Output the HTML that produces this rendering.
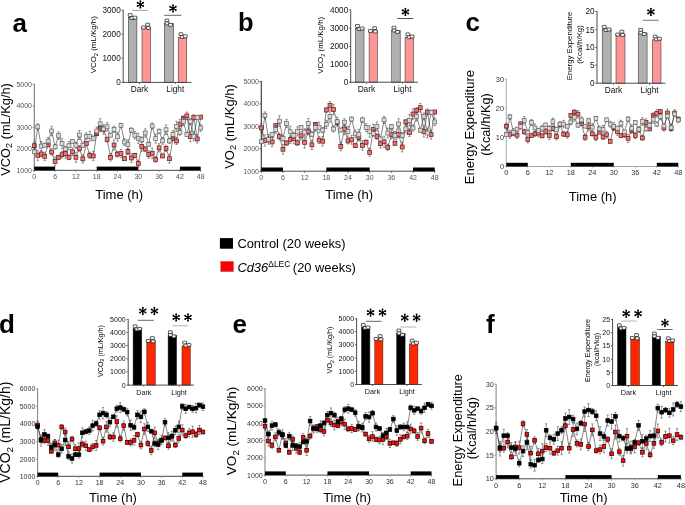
<!DOCTYPE html><html><head><meta charset="utf-8"><style>html,body{margin:0;padding:0;background:#fff;}svg{display:block;will-change:transform;}text{font-family:"Liberation Sans", sans-serif;}</style></head><body>
<svg width="685" height="505" viewBox="0 0 685 505">
<rect width="685" height="505" fill="#fff"/>
<text x="12.5" y="31.5" font-size="26" text-anchor="start" font-weight="bold" fill="#000">a</text>
<text x="238.1" y="30.8" font-size="25.5" text-anchor="start" font-weight="bold" fill="#000">b</text>
<text x="465.5" y="30.7" font-size="26" text-anchor="start" font-weight="bold" fill="#000">c</text>
<text x="-1" y="333.3" font-size="26" text-anchor="start" font-weight="bold" fill="#000">d</text>
<text x="232.5" y="333.3" font-size="26" text-anchor="start" font-weight="bold" fill="#000">e</text>
<text x="486" y="333.3" font-size="26" text-anchor="start" font-weight="bold" fill="#000">f</text>
<line x1="34.3" y1="83.8" x2="34.3" y2="170.8" stroke="#777" stroke-width="1.1"/>
<line x1="33.8" y1="170.3" x2="201.22" y2="170.3" stroke="#333" stroke-width="0.9"/>
<line x1="32.7" y1="84.3" x2="34.3" y2="84.3" stroke="#777" stroke-width="0.8"/>
<text x="32" y="86.75" font-size="7" text-anchor="end" font-weight="normal" fill="#555">5000</text>
<line x1="32.7" y1="105.8" x2="34.3" y2="105.8" stroke="#777" stroke-width="0.8"/>
<text x="32" y="108.25" font-size="7" text-anchor="end" font-weight="normal" fill="#555">4000</text>
<line x1="32.7" y1="127.3" x2="34.3" y2="127.3" stroke="#777" stroke-width="0.8"/>
<text x="32" y="129.75" font-size="7" text-anchor="end" font-weight="normal" fill="#555">3000</text>
<line x1="32.7" y1="148.8" x2="34.3" y2="148.8" stroke="#777" stroke-width="0.8"/>
<text x="32" y="151.25" font-size="7" text-anchor="end" font-weight="normal" fill="#555">2000</text>
<line x1="32.7" y1="170.3" x2="34.3" y2="170.3" stroke="#777" stroke-width="0.8"/>
<text x="32" y="172.75" font-size="7" text-anchor="end" font-weight="normal" fill="#555">1000</text>
<line x1="34.3" y1="170.3" x2="34.3" y2="171.9" stroke="#777" stroke-width="0.8"/>
<text x="34.3" y="179.2" font-size="7" text-anchor="middle" font-weight="normal" fill="#555">0</text>
<line x1="55.1" y1="170.3" x2="55.1" y2="171.9" stroke="#777" stroke-width="0.8"/>
<text x="55.1" y="179.2" font-size="7" text-anchor="middle" font-weight="normal" fill="#555">6</text>
<line x1="75.9" y1="170.3" x2="75.9" y2="171.9" stroke="#777" stroke-width="0.8"/>
<text x="75.9" y="179.2" font-size="7" text-anchor="middle" font-weight="normal" fill="#555">12</text>
<line x1="96.71" y1="170.3" x2="96.71" y2="171.9" stroke="#777" stroke-width="0.8"/>
<text x="96.71" y="179.2" font-size="7" text-anchor="middle" font-weight="normal" fill="#555">18</text>
<line x1="117.51" y1="170.3" x2="117.51" y2="171.9" stroke="#777" stroke-width="0.8"/>
<text x="117.51" y="179.2" font-size="7" text-anchor="middle" font-weight="normal" fill="#555">24</text>
<line x1="138.31" y1="170.3" x2="138.31" y2="171.9" stroke="#777" stroke-width="0.8"/>
<text x="138.31" y="179.2" font-size="7" text-anchor="middle" font-weight="normal" fill="#555">30</text>
<line x1="159.11" y1="170.3" x2="159.11" y2="171.9" stroke="#777" stroke-width="0.8"/>
<text x="159.11" y="179.2" font-size="7" text-anchor="middle" font-weight="normal" fill="#555">36</text>
<line x1="179.91" y1="170.3" x2="179.91" y2="171.9" stroke="#777" stroke-width="0.8"/>
<text x="179.91" y="179.2" font-size="7" text-anchor="middle" font-weight="normal" fill="#555">42</text>
<line x1="200.72" y1="170.3" x2="200.72" y2="171.9" stroke="#777" stroke-width="0.8"/>
<text x="200.72" y="179.2" font-size="7" text-anchor="middle" font-weight="normal" fill="#555">48</text>
<rect x="34.3" y="166.6" width="20.8" height="3.7" fill="#000"/>
<rect x="96.71" y="166.6" width="41.6" height="3.7" fill="#000"/>
<rect x="179.91" y="166.6" width="20.8" height="3.7" fill="#000"/>
<polyline points="34.3,145.7 37.77,155.3 41.23,154 44.7,156.3 48.17,144.8 51.63,152 55.1,161.5 58.57,157.3 62.04,154.7 65.5,153.4 68.97,157.3 72.44,151.8 75.9,157.3 79.37,148.4 82.84,158.9 86.31,143.5 89.77,155.3 93.24,156 96.71,133.7 100.17,128.4 103.64,129.4 107.11,139.6 110.57,157.3 114.04,145 117.51,154.2 120.97,153.5 124.44,158.7 127.91,151.6 131.38,158 134.84,155.4 138.31,163.6 141.78,146.4 145.24,149 148.71,154.5 152.18,153.2 155.64,159.4 159.11,147.8 162.58,156 166.05,148.3 169.51,158.7 172.98,138.3 176.45,141 179.91,124.1 183.38,118.3 186.85,115.9 190.31,136.7 193.78,117.5 197.25,138.9 200.72,117.1" fill="none" stroke="#222" stroke-width="0.55"/>
<path d="M34.3 141.94V149.46M33.1 141.94H35.5M33.1 149.46H35.5M37.77 150.17V160.43M36.57 150.17H38.97M36.57 160.43H38.97M41.23 151.26V156.74M40.03 151.26H42.43M40.03 156.74H42.43M44.7 152.2V160.4M43.5 152.2H45.9M43.5 160.4H45.9M48.17 143.09V146.51M46.97 143.09H49.37M46.97 146.51H49.37M51.63 148.92V155.08M50.43 148.92H52.84M50.43 155.08H52.84M55.1 157.05V165.95M53.9 157.05H56.3M53.9 165.95H56.3M58.57 155.25V159.35M57.37 155.25H59.77M57.37 159.35H59.77M62.04 151.28V158.12M60.84 151.28H63.24M60.84 158.12H63.24M65.5 148.61V158.19M64.3 148.61H66.7M64.3 158.19H66.7M68.97 154.91V159.69M67.77 154.91H70.17M67.77 159.69H70.17M72.44 148.04V155.56M71.24 148.04H73.64M71.24 155.56H73.64M75.9 152.17V162.43M74.7 152.17H77.1M74.7 162.43H77.1M79.37 145.66V151.14M78.17 145.66H80.57M78.17 151.14H80.57M82.84 154.8V163M81.64 154.8H84.04M81.64 163H84.04M86.31 141.79V145.21M85.11 141.79H87.51M85.11 145.21H87.51M89.77 152.22V158.38M88.57 152.22H90.97M88.57 158.38H90.97M93.24 151.55V160.45M92.04 151.55H94.44M92.04 160.45H94.44M96.71 131.65V135.75M95.51 131.65H97.91M95.51 135.75H97.91M100.17 124.98V131.82M98.97 124.98H101.37M98.97 131.82H101.37M103.64 124.61V134.19M102.44 124.61H104.84M102.44 134.19H104.84M107.11 137.21V141.99M105.91 137.21H108.31M105.91 141.99H108.31M110.57 153.54V161.06M109.37 153.54H111.77M109.37 161.06H111.77M114.04 139.87V150.13M112.84 139.87H115.24M112.84 150.13H115.24M117.51 151.46V156.94M116.31 151.46H118.71M116.31 156.94H118.71M120.97 149.4V157.6M119.77 149.4H122.17M119.77 157.6H122.17M124.44 156.99V160.41M123.24 156.99H125.64M123.24 160.41H125.64M127.91 148.52V154.68M126.71 148.52H129.11M126.71 154.68H129.11M131.38 153.55V162.45M130.18 153.55H132.58M130.18 162.45H132.58M134.84 153.35V157.45M133.64 153.35H136.04M133.64 157.45H136.04M138.31 160.18V167.02M137.11 160.18H139.51M137.11 167.02H139.51M141.78 141.61V151.19M140.58 141.61H142.98M140.58 151.19H142.98M145.24 146.61V151.39M144.04 146.61H146.44M144.04 151.39H146.44M148.71 150.74V158.26M147.51 150.74H149.91M147.51 158.26H149.91M152.18 148.07V158.33M150.98 148.07H153.38M150.98 158.33H153.38M155.64 156.66V162.14M154.44 156.66H156.84M154.44 162.14H156.84M159.11 143.7V151.9M157.91 143.7H160.31M157.91 151.9H160.31M162.58 154.29V157.71M161.38 154.29H163.78M161.38 157.71H163.78M166.05 145.22V151.38M164.85 145.22H167.25M164.85 151.38H167.25M169.51 154.25V163.15M168.31 154.25H170.71M168.31 163.15H170.71M172.98 136.25V140.35M171.78 136.25H174.18M171.78 140.35H174.18M176.45 137.58V144.42M175.25 137.58H177.65M175.25 144.42H177.65M179.91 119.31V128.89M178.71 119.31H181.11M178.71 128.89H181.11M183.38 115.91V120.69M182.18 115.91H184.58M182.18 120.69H184.58M186.85 112.14V119.66M185.65 112.14H188.05M185.65 119.66H188.05M190.31 131.57V141.83M189.12 131.57H191.51M189.12 141.83H191.51M193.78 114.76V120.24M192.58 114.76H194.98M192.58 120.24H194.98M197.25 134.8V143M196.05 134.8H198.45M196.05 143H198.45M200.72 115.39V118.81M199.52 115.39H201.92M199.52 118.81H201.92" stroke="#333" stroke-width="0.5" fill="none"/>
<g fill="#f47272" stroke="#5a1a1a" stroke-width="0.7"><rect x="32.35" y="143.75" width="3.9" height="3.9"/><rect x="35.82" y="153.35" width="3.9" height="3.9"/><rect x="39.28" y="152.05" width="3.9" height="3.9"/><rect x="42.75" y="154.35" width="3.9" height="3.9"/><rect x="46.22" y="142.85" width="3.9" height="3.9"/><rect x="49.68" y="150.05" width="3.9" height="3.9"/><rect x="53.15" y="159.55" width="3.9" height="3.9"/><rect x="56.62" y="155.35" width="3.9" height="3.9"/><rect x="60.09" y="152.75" width="3.9" height="3.9"/><rect x="63.55" y="151.45" width="3.9" height="3.9"/><rect x="67.02" y="155.35" width="3.9" height="3.9"/><rect x="70.49" y="149.85" width="3.9" height="3.9"/><rect x="73.95" y="155.35" width="3.9" height="3.9"/><rect x="77.42" y="146.45" width="3.9" height="3.9"/><rect x="80.89" y="156.95" width="3.9" height="3.9"/><rect x="84.36" y="141.55" width="3.9" height="3.9"/><rect x="87.82" y="153.35" width="3.9" height="3.9"/><rect x="91.29" y="154.05" width="3.9" height="3.9"/><rect x="94.76" y="131.75" width="3.9" height="3.9"/><rect x="98.22" y="126.45" width="3.9" height="3.9"/><rect x="101.69" y="127.45" width="3.9" height="3.9"/><rect x="105.16" y="137.65" width="3.9" height="3.9"/><rect x="108.62" y="155.35" width="3.9" height="3.9"/><rect x="112.09" y="143.05" width="3.9" height="3.9"/><rect x="115.56" y="152.25" width="3.9" height="3.9"/><rect x="119.02" y="151.55" width="3.9" height="3.9"/><rect x="122.49" y="156.75" width="3.9" height="3.9"/><rect x="125.96" y="149.65" width="3.9" height="3.9"/><rect x="129.43" y="156.05" width="3.9" height="3.9"/><rect x="132.89" y="153.45" width="3.9" height="3.9"/><rect x="136.36" y="161.65" width="3.9" height="3.9"/><rect x="139.83" y="144.45" width="3.9" height="3.9"/><rect x="143.29" y="147.05" width="3.9" height="3.9"/><rect x="146.76" y="152.55" width="3.9" height="3.9"/><rect x="150.23" y="151.25" width="3.9" height="3.9"/><rect x="153.69" y="157.45" width="3.9" height="3.9"/><rect x="157.16" y="145.85" width="3.9" height="3.9"/><rect x="160.63" y="154.05" width="3.9" height="3.9"/><rect x="164.1" y="146.35" width="3.9" height="3.9"/><rect x="167.56" y="156.75" width="3.9" height="3.9"/><rect x="171.03" y="136.35" width="3.9" height="3.9"/><rect x="174.5" y="139.05" width="3.9" height="3.9"/><rect x="177.96" y="122.15" width="3.9" height="3.9"/><rect x="181.43" y="116.35" width="3.9" height="3.9"/><rect x="184.9" y="113.95" width="3.9" height="3.9"/><rect x="188.37" y="134.75" width="3.9" height="3.9"/><rect x="191.83" y="115.55" width="3.9" height="3.9"/><rect x="195.3" y="136.95" width="3.9" height="3.9"/><rect x="198.77" y="115.15" width="3.9" height="3.9"/></g>
<polyline points="34.3,151.8 37.77,126.8 41.23,146.1 44.7,145.2 48.17,141.1 51.63,131 55.1,146.8 58.57,135.6 62.04,143.5 65.5,149 68.97,145.7 72.44,141.3 75.9,145.2 79.37,135 82.84,145.2 86.31,136.3 89.77,136.3 93.24,138.3 96.71,131 100.17,123.8 103.64,129 107.11,126.8 110.57,135.2 114.04,129.4 117.51,136.7 120.97,125.3 124.44,142 127.91,144.6 131.38,130.2 134.84,135.2 138.31,138.3 141.78,139.8 145.24,133 148.71,144.3 152.18,126 155.64,138.6 159.11,131.2 162.58,140.9 166.05,129.7 169.51,140.9 172.98,134.5 176.45,126.4 179.91,132.4 183.38,121.5 186.85,134.5 190.31,121.5 193.78,136.4 197.25,117.5 200.72,127.9" fill="none" stroke="#222" stroke-width="0.55"/>
<path d="M34.3 150.09V153.51M33.1 150.09H35.5M33.1 153.51H35.5M37.77 123.72V129.88M36.57 123.72H38.97M36.57 129.88H38.97M41.23 141.65V150.55M40.03 141.65H42.43M40.03 150.55H42.43M44.7 143.15V147.25M43.5 143.15H45.9M43.5 147.25H45.9M48.17 137.68V144.52M46.97 137.68H49.37M46.97 144.52H49.37M51.63 126.21V135.79M50.43 126.21H52.84M50.43 135.79H52.84M55.1 144.41V149.19M53.9 144.41H56.3M53.9 149.19H56.3M58.57 131.84V139.36M57.37 131.84H59.77M57.37 139.36H59.77M62.04 138.37V148.63M60.84 138.37H63.24M60.84 148.63H63.24M65.5 146.26V151.74M64.3 146.26H66.7M64.3 151.74H66.7M68.97 141.6V149.8M67.77 141.6H70.17M67.77 149.8H70.17M72.44 139.59V143.01M71.24 139.59H73.64M71.24 143.01H73.64M75.9 142.12V148.28M74.7 142.12H77.1M74.7 148.28H77.1M79.37 130.55V139.45M78.17 130.55H80.57M78.17 139.45H80.57M82.84 143.15V147.25M81.64 143.15H84.04M81.64 147.25H84.04M86.31 132.88V139.72M85.11 132.88H87.51M85.11 139.72H87.51M89.77 131.51V141.09M88.57 131.51H90.97M88.57 141.09H90.97M93.24 135.91V140.69M92.04 135.91H94.44M92.04 140.69H94.44M96.71 127.24V134.76M95.51 127.24H97.91M95.51 134.76H97.91M100.17 118.67V128.93M98.97 118.67H101.37M98.97 128.93H101.37M103.64 126.26V131.74M102.44 126.26H104.84M102.44 131.74H104.84M107.11 122.7V130.9M105.91 122.7H108.31M105.91 130.9H108.31M110.57 133.49V136.91M109.37 133.49H111.77M109.37 136.91H111.77M114.04 126.32V132.48M112.84 126.32H115.24M112.84 132.48H115.24M117.51 132.25V141.15M116.31 132.25H118.71M116.31 141.15H118.71M120.97 123.25V127.35M119.77 123.25H122.17M119.77 127.35H122.17M124.44 138.58V145.42M123.24 138.58H125.64M123.24 145.42H125.64M127.91 139.81V149.39M126.71 139.81H129.11M126.71 149.39H129.11M131.38 127.81V132.59M130.18 127.81H132.58M130.18 132.59H132.58M134.84 131.44V138.96M133.64 131.44H136.04M133.64 138.96H136.04M138.31 133.17V143.43M137.11 133.17H139.51M137.11 143.43H139.51M141.78 137.06V142.54M140.58 137.06H142.98M140.58 142.54H142.98M145.24 128.9V137.1M144.04 128.9H146.44M144.04 137.1H146.44M148.71 142.59V146.01M147.51 142.59H149.91M147.51 146.01H149.91M152.18 122.92V129.08M150.98 122.92H153.38M150.98 129.08H153.38M155.64 134.15V143.05M154.44 134.15H156.84M154.44 143.05H156.84M159.11 129.15V133.25M157.91 129.15H160.31M157.91 133.25H160.31M162.58 137.48V144.32M161.38 137.48H163.78M161.38 144.32H163.78M166.05 124.91V134.49M164.85 124.91H167.25M164.85 134.49H167.25M169.51 138.51V143.29M168.31 138.51H170.71M168.31 143.29H170.71M172.98 130.74V138.26M171.78 130.74H174.18M171.78 138.26H174.18M176.45 121.27V131.53M175.25 121.27H177.65M175.25 131.53H177.65M179.91 129.66V135.14M178.71 129.66H181.11M178.71 135.14H181.11M183.38 117.4V125.6M182.18 117.4H184.58M182.18 125.6H184.58M186.85 132.79V136.21M185.65 132.79H188.05M185.65 136.21H188.05M190.31 118.42V124.58M189.12 118.42H191.51M189.12 124.58H191.51M193.78 131.95V140.85M192.58 131.95H194.98M192.58 140.85H194.98M197.25 115.45V119.55M196.05 115.45H198.45M196.05 119.55H198.45M200.72 124.48V131.32M199.52 124.48H201.92M199.52 131.32H201.92" stroke="#333" stroke-width="0.5" fill="none"/>
<g fill="#dadada" stroke="#666" stroke-width="0.7"><rect x="32.35" y="149.85" width="3.9" height="3.9"/><rect x="35.82" y="124.85" width="3.9" height="3.9"/><rect x="39.28" y="144.15" width="3.9" height="3.9"/><rect x="42.75" y="143.25" width="3.9" height="3.9"/><rect x="46.22" y="139.15" width="3.9" height="3.9"/><rect x="49.68" y="129.05" width="3.9" height="3.9"/><rect x="53.15" y="144.85" width="3.9" height="3.9"/><rect x="56.62" y="133.65" width="3.9" height="3.9"/><rect x="60.09" y="141.55" width="3.9" height="3.9"/><rect x="63.55" y="147.05" width="3.9" height="3.9"/><rect x="67.02" y="143.75" width="3.9" height="3.9"/><rect x="70.49" y="139.35" width="3.9" height="3.9"/><rect x="73.95" y="143.25" width="3.9" height="3.9"/><rect x="77.42" y="133.05" width="3.9" height="3.9"/><rect x="80.89" y="143.25" width="3.9" height="3.9"/><rect x="84.36" y="134.35" width="3.9" height="3.9"/><rect x="87.82" y="134.35" width="3.9" height="3.9"/><rect x="91.29" y="136.35" width="3.9" height="3.9"/><rect x="94.76" y="129.05" width="3.9" height="3.9"/><rect x="98.22" y="121.85" width="3.9" height="3.9"/><rect x="101.69" y="127.05" width="3.9" height="3.9"/><rect x="105.16" y="124.85" width="3.9" height="3.9"/><rect x="108.62" y="133.25" width="3.9" height="3.9"/><rect x="112.09" y="127.45" width="3.9" height="3.9"/><rect x="115.56" y="134.75" width="3.9" height="3.9"/><rect x="119.02" y="123.35" width="3.9" height="3.9"/><rect x="122.49" y="140.05" width="3.9" height="3.9"/><rect x="125.96" y="142.65" width="3.9" height="3.9"/><rect x="129.43" y="128.25" width="3.9" height="3.9"/><rect x="132.89" y="133.25" width="3.9" height="3.9"/><rect x="136.36" y="136.35" width="3.9" height="3.9"/><rect x="139.83" y="137.85" width="3.9" height="3.9"/><rect x="143.29" y="131.05" width="3.9" height="3.9"/><rect x="146.76" y="142.35" width="3.9" height="3.9"/><rect x="150.23" y="124.05" width="3.9" height="3.9"/><rect x="153.69" y="136.65" width="3.9" height="3.9"/><rect x="157.16" y="129.25" width="3.9" height="3.9"/><rect x="160.63" y="138.95" width="3.9" height="3.9"/><rect x="164.1" y="127.75" width="3.9" height="3.9"/><rect x="167.56" y="138.95" width="3.9" height="3.9"/><rect x="171.03" y="132.55" width="3.9" height="3.9"/><rect x="174.5" y="124.45" width="3.9" height="3.9"/><rect x="177.96" y="130.45" width="3.9" height="3.9"/><rect x="181.43" y="119.55" width="3.9" height="3.9"/><rect x="184.9" y="132.55" width="3.9" height="3.9"/><rect x="188.37" y="119.55" width="3.9" height="3.9"/><rect x="191.83" y="134.45" width="3.9" height="3.9"/><rect x="195.3" y="115.55" width="3.9" height="3.9"/><rect x="198.77" y="125.95" width="3.9" height="3.9"/></g>
<line x1="261.3" y1="81" x2="261.3" y2="171.7" stroke="#333" stroke-width="1.1"/>
<line x1="260.8" y1="171.2" x2="435.22" y2="171.2" stroke="#333" stroke-width="0.9"/>
<line x1="259.7" y1="81.5" x2="261.3" y2="81.5" stroke="#333" stroke-width="0.8"/>
<text x="259" y="83.95" font-size="7" text-anchor="end" font-weight="normal" fill="#555">5000</text>
<line x1="259.7" y1="103.9" x2="261.3" y2="103.9" stroke="#333" stroke-width="0.8"/>
<text x="259" y="106.35" font-size="7" text-anchor="end" font-weight="normal" fill="#555">4000</text>
<line x1="259.7" y1="126.3" x2="261.3" y2="126.3" stroke="#333" stroke-width="0.8"/>
<text x="259" y="128.75" font-size="7" text-anchor="end" font-weight="normal" fill="#555">3000</text>
<line x1="259.7" y1="148.8" x2="261.3" y2="148.8" stroke="#333" stroke-width="0.8"/>
<text x="259" y="151.25" font-size="7" text-anchor="end" font-weight="normal" fill="#555">2000</text>
<line x1="259.7" y1="171.2" x2="261.3" y2="171.2" stroke="#333" stroke-width="0.8"/>
<text x="259" y="173.65" font-size="7" text-anchor="end" font-weight="normal" fill="#555">1000</text>
<line x1="261.3" y1="171.2" x2="261.3" y2="172.8" stroke="#333" stroke-width="0.8"/>
<text x="261.3" y="180.1" font-size="7" text-anchor="middle" font-weight="normal" fill="#555">0</text>
<line x1="282.98" y1="171.2" x2="282.98" y2="172.8" stroke="#333" stroke-width="0.8"/>
<text x="282.98" y="180.1" font-size="7" text-anchor="middle" font-weight="normal" fill="#555">6</text>
<line x1="304.66" y1="171.2" x2="304.66" y2="172.8" stroke="#333" stroke-width="0.8"/>
<text x="304.66" y="180.1" font-size="7" text-anchor="middle" font-weight="normal" fill="#555">12</text>
<line x1="326.33" y1="171.2" x2="326.33" y2="172.8" stroke="#333" stroke-width="0.8"/>
<text x="326.33" y="180.1" font-size="7" text-anchor="middle" font-weight="normal" fill="#555">18</text>
<line x1="348.01" y1="171.2" x2="348.01" y2="172.8" stroke="#333" stroke-width="0.8"/>
<text x="348.01" y="180.1" font-size="7" text-anchor="middle" font-weight="normal" fill="#555">24</text>
<line x1="369.69" y1="171.2" x2="369.69" y2="172.8" stroke="#333" stroke-width="0.8"/>
<text x="369.69" y="180.1" font-size="7" text-anchor="middle" font-weight="normal" fill="#555">30</text>
<line x1="391.37" y1="171.2" x2="391.37" y2="172.8" stroke="#333" stroke-width="0.8"/>
<text x="391.37" y="180.1" font-size="7" text-anchor="middle" font-weight="normal" fill="#555">36</text>
<line x1="413.05" y1="171.2" x2="413.05" y2="172.8" stroke="#333" stroke-width="0.8"/>
<text x="413.05" y="180.1" font-size="7" text-anchor="middle" font-weight="normal" fill="#555">42</text>
<line x1="434.72" y1="171.2" x2="434.72" y2="172.8" stroke="#333" stroke-width="0.8"/>
<text x="434.72" y="180.1" font-size="7" text-anchor="middle" font-weight="normal" fill="#555">48</text>
<rect x="261.3" y="167.5" width="21.68" height="3.7" fill="#000"/>
<rect x="326.33" y="167.5" width="43.36" height="3.7" fill="#000"/>
<rect x="413.05" y="167.5" width="21.68" height="3.7" fill="#000"/>
<polyline points="261.3,127.9 264.91,140.4 268.53,139.3 272.14,142 275.75,125.4 279.37,136.5 282.98,149.3 286.59,143 290.2,139.6 293.82,138.5 297.43,142.8 301.04,135.8 304.66,142.5 308.27,131.7 311.88,144.9 315.5,124.3 319.11,140.1 322.72,141.2 326.33,110 329.95,105.3 333.56,109.6 337.17,122.2 340.79,146.5 344.4,129 348.01,140.9 351.62,139.7 355.24,145.7 358.85,137.5 362.46,145.4 366.08,142.2 369.69,152.4 373.3,129.5 376.92,136.5 380.53,143.8 384.14,141.8 387.75,147.3 391.37,134.3 394.98,143.3 398.59,134.3 402.21,147 405.82,121.9 409.43,132.7 413.05,114 416.66,110.4 420.27,107.7 423.88,131.4 427.5,112 431.11,134.6 434.72,112" fill="none" stroke="#222" stroke-width="0.55"/>
<path d="M261.3 123.74V132.06M260.1 123.74H262.5M260.1 132.06H262.5M264.91 134.73V146.07M263.71 134.73H266.11M263.71 146.07H266.11M268.53 136.28V142.32M267.33 136.28H269.73M267.33 142.32H269.73M272.14 137.46V146.54M270.94 137.46H273.34M270.94 146.54H273.34M275.75 123.51V127.29M274.55 123.51H276.95M274.55 127.29H276.95M279.37 133.1V139.9M278.17 133.1H280.56M278.17 139.9H280.56M282.98 144.39V154.21M281.78 144.39H284.18M281.78 154.21H284.18M286.59 140.73V145.27M285.39 140.73H287.79M285.39 145.27H287.79M290.2 135.82V143.38M289 135.82H291.4M289 143.38H291.4M293.82 133.21V143.79M292.62 133.21H295.02M292.62 143.79H295.02M297.43 140.15V145.45M296.23 140.15H298.63M296.23 145.45H298.63M301.04 131.64V139.96M299.84 131.64H302.24M299.84 139.96H302.24M304.66 136.83V148.17M303.46 136.83H305.86M303.46 148.17H305.86M308.27 128.68V134.72M307.07 128.68H309.47M307.07 134.72H309.47M311.88 140.36V149.44M310.68 140.36H313.08M310.68 149.44H313.08M315.5 122.41V126.19M314.3 122.41H316.69M314.3 126.19H316.69M319.11 136.7V143.5M317.91 136.7H320.31M317.91 143.5H320.31M322.72 136.29V146.11M321.52 136.29H323.92M321.52 146.11H323.92M326.33 107.73V112.27M325.13 107.73H327.53M325.13 112.27H327.53M329.95 101.52V109.08M328.75 101.52H331.15M328.75 109.08H331.15M333.56 104.31V114.89M332.36 104.31H334.76M332.36 114.89H334.76M337.17 119.55V124.85M335.97 119.55H338.37M335.97 124.85H338.37M340.79 142.34V150.66M339.59 142.34H341.99M339.59 150.66H341.99M344.4 123.33V134.67M343.2 123.33H345.6M343.2 134.67H345.6M348.01 137.88V143.92M346.81 137.88H349.21M346.81 143.92H349.21M351.62 135.16V144.24M350.43 135.16H352.82M350.43 144.24H352.82M355.24 143.81V147.59M354.04 143.81H356.44M354.04 147.59H356.44M358.85 134.1V140.9M357.65 134.1H360.05M357.65 140.9H360.05M362.46 140.49V150.31M361.26 140.49H363.66M361.26 150.31H363.66M366.08 139.93V144.47M364.88 139.93H367.28M364.88 144.47H367.28M369.69 148.62V156.18M368.49 148.62H370.89M368.49 156.18H370.89M373.3 124.21V134.79M372.1 124.21H374.5M372.1 134.79H374.5M376.92 133.85V139.15M375.72 133.85H378.12M375.72 139.15H378.12M380.53 139.64V147.96M379.33 139.64H381.73M379.33 147.96H381.73M384.14 136.13V147.47M382.94 136.13H385.34M382.94 147.47H385.34M387.75 144.28V150.32M386.56 144.28H388.95M386.56 150.32H388.95M391.37 129.76V138.84M390.17 129.76H392.57M390.17 138.84H392.57M394.98 141.41V145.19M393.78 141.41H396.18M393.78 145.19H396.18M398.59 130.9V137.7M397.39 130.9H399.79M397.39 137.7H399.79M402.21 142.09V151.91M401.01 142.09H403.41M401.01 151.91H403.41M405.82 119.63V124.17M404.62 119.63H407.02M404.62 124.17H407.02M409.43 128.92V136.48M408.23 128.92H410.63M408.23 136.48H410.63M413.05 108.71V119.29M411.85 108.71H414.25M411.85 119.29H414.25M416.66 107.75V113.05M415.46 107.75H417.86M415.46 113.05H417.86M420.27 103.54V111.86M419.07 103.54H421.47M419.07 111.86H421.47M423.88 125.73V137.07M422.69 125.73H425.08M422.69 137.07H425.08M427.5 108.98V115.02M426.3 108.98H428.7M426.3 115.02H428.7M431.11 130.06V139.14M429.91 130.06H432.31M429.91 139.14H432.31M434.72 110.11V113.89M433.52 110.11H435.92M433.52 113.89H435.92" stroke="#333" stroke-width="0.5" fill="none"/>
<g fill="#f47272" stroke="#5a1a1a" stroke-width="0.7"><rect x="259.35" y="125.95" width="3.9" height="3.9"/><rect x="262.96" y="138.45" width="3.9" height="3.9"/><rect x="266.58" y="137.35" width="3.9" height="3.9"/><rect x="270.19" y="140.05" width="3.9" height="3.9"/><rect x="273.8" y="123.45" width="3.9" height="3.9"/><rect x="277.42" y="134.55" width="3.9" height="3.9"/><rect x="281.03" y="147.35" width="3.9" height="3.9"/><rect x="284.64" y="141.05" width="3.9" height="3.9"/><rect x="288.25" y="137.65" width="3.9" height="3.9"/><rect x="291.87" y="136.55" width="3.9" height="3.9"/><rect x="295.48" y="140.85" width="3.9" height="3.9"/><rect x="299.09" y="133.85" width="3.9" height="3.9"/><rect x="302.71" y="140.55" width="3.9" height="3.9"/><rect x="306.32" y="129.75" width="3.9" height="3.9"/><rect x="309.93" y="142.95" width="3.9" height="3.9"/><rect x="313.55" y="122.35" width="3.9" height="3.9"/><rect x="317.16" y="138.15" width="3.9" height="3.9"/><rect x="320.77" y="139.25" width="3.9" height="3.9"/><rect x="324.38" y="108.05" width="3.9" height="3.9"/><rect x="328" y="103.35" width="3.9" height="3.9"/><rect x="331.61" y="107.65" width="3.9" height="3.9"/><rect x="335.22" y="120.25" width="3.9" height="3.9"/><rect x="338.84" y="144.55" width="3.9" height="3.9"/><rect x="342.45" y="127.05" width="3.9" height="3.9"/><rect x="346.06" y="138.95" width="3.9" height="3.9"/><rect x="349.68" y="137.75" width="3.9" height="3.9"/><rect x="353.29" y="143.75" width="3.9" height="3.9"/><rect x="356.9" y="135.55" width="3.9" height="3.9"/><rect x="360.51" y="143.45" width="3.9" height="3.9"/><rect x="364.13" y="140.25" width="3.9" height="3.9"/><rect x="367.74" y="150.45" width="3.9" height="3.9"/><rect x="371.35" y="127.55" width="3.9" height="3.9"/><rect x="374.97" y="134.55" width="3.9" height="3.9"/><rect x="378.58" y="141.85" width="3.9" height="3.9"/><rect x="382.19" y="139.85" width="3.9" height="3.9"/><rect x="385.81" y="145.35" width="3.9" height="3.9"/><rect x="389.42" y="132.35" width="3.9" height="3.9"/><rect x="393.03" y="141.35" width="3.9" height="3.9"/><rect x="396.64" y="132.35" width="3.9" height="3.9"/><rect x="400.26" y="145.05" width="3.9" height="3.9"/><rect x="403.87" y="119.95" width="3.9" height="3.9"/><rect x="407.48" y="130.75" width="3.9" height="3.9"/><rect x="411.1" y="112.05" width="3.9" height="3.9"/><rect x="414.71" y="108.45" width="3.9" height="3.9"/><rect x="418.32" y="105.75" width="3.9" height="3.9"/><rect x="421.94" y="129.45" width="3.9" height="3.9"/><rect x="425.55" y="110.05" width="3.9" height="3.9"/><rect x="429.16" y="132.65" width="3.9" height="3.9"/><rect x="432.77" y="110.05" width="3.9" height="3.9"/></g>
<polyline points="261.3,141.7 264.91,115.3 268.53,139.3 272.14,134.6 275.75,129.5 279.37,121.1 282.98,138.5 286.59,123.5 290.2,131.7 293.82,135.4 297.43,131.4 301.04,127.5 304.66,132.2 308.27,123.5 311.88,134.3 315.5,127.5 319.11,127.5 322.72,130.1 326.33,124.3 329.95,116.4 333.56,129 337.17,121.6 340.79,130.1 344.4,122.2 348.01,131.4 351.62,119.1 355.24,133.8 358.85,134.6 362.46,119.9 366.08,127.5 369.69,131.4 373.3,133.4 376.92,126.4 380.53,139 384.14,119.9 387.75,133 391.37,126.7 394.98,135.4 398.59,124 402.21,135.4 405.82,128.8 409.43,120.4 413.05,128 416.66,116.4 420.27,130.2 423.88,116.4 427.5,133 431.11,112.4 434.72,121.9" fill="none" stroke="#222" stroke-width="0.55"/>
<path d="M261.3 139.81V143.59M260.1 139.81H262.5M260.1 143.59H262.5M264.91 111.9V118.7M263.71 111.9H266.11M263.71 118.7H266.11M268.53 134.39V144.21M267.33 134.39H269.73M267.33 144.21H269.73M272.14 132.33V136.87M270.94 132.33H273.34M270.94 136.87H273.34M275.75 125.72V133.28M274.55 125.72H276.95M274.55 133.28H276.95M279.37 115.81V126.39M278.17 115.81H280.56M278.17 126.39H280.56M282.98 135.85V141.15M281.78 135.85H284.18M281.78 141.15H284.18M286.59 119.34V127.66M285.39 119.34H287.79M285.39 127.66H287.79M290.2 126.03V137.37M289 126.03H291.4M289 137.37H291.4M293.82 132.38V138.42M292.62 132.38H295.02M292.62 138.42H295.02M297.43 126.86V135.94M296.23 126.86H298.63M296.23 135.94H298.63M301.04 125.61V129.39M299.84 125.61H302.24M299.84 129.39H302.24M304.66 128.8V135.6M303.46 128.8H305.86M303.46 135.6H305.86M308.27 118.59V128.41M307.07 118.59H309.47M307.07 128.41H309.47M311.88 132.03V136.57M310.68 132.03H313.08M310.68 136.57H313.08M315.5 123.72V131.28M314.3 123.72H316.69M314.3 131.28H316.69M319.11 122.21V132.79M317.91 122.21H320.31M317.91 132.79H320.31M322.72 127.45V132.75M321.52 127.45H323.92M321.52 132.75H323.92M326.33 120.14V128.46M325.13 120.14H327.53M325.13 128.46H327.53M329.95 110.73V122.07M328.75 110.73H331.15M328.75 122.07H331.15M333.56 125.98V132.02M332.36 125.98H334.76M332.36 132.02H334.76M337.17 117.06V126.14M335.97 117.06H338.37M335.97 126.14H338.37M340.79 128.21V131.99M339.59 128.21H341.99M339.59 131.99H341.99M344.4 118.8V125.6M343.2 118.8H345.6M343.2 125.6H345.6M348.01 126.49V136.31M346.81 126.49H349.21M346.81 136.31H349.21M351.62 116.83V121.37M350.43 116.83H352.82M350.43 121.37H352.82M355.24 130.02V137.58M354.04 130.02H356.44M354.04 137.58H356.44M358.85 129.31V139.89M357.65 129.31H360.05M357.65 139.89H360.05M362.46 117.25V122.55M361.26 117.25H363.66M361.26 122.55H363.66M366.08 123.34V131.66M364.88 123.34H367.28M364.88 131.66H367.28M369.69 125.73V137.07M368.49 125.73H370.89M368.49 137.07H370.89M373.3 130.38V136.42M372.1 130.38H374.5M372.1 136.42H374.5M376.92 121.86V130.94M375.72 121.86H378.12M375.72 130.94H378.12M380.53 137.11V140.89M379.33 137.11H381.73M379.33 140.89H381.73M384.14 116.5V123.3M382.94 116.5H385.34M382.94 123.3H385.34M387.75 128.09V137.91M386.56 128.09H388.95M386.56 137.91H388.95M391.37 124.43V128.97M390.17 124.43H392.57M390.17 128.97H392.57M394.98 131.62V139.18M393.78 131.62H396.18M393.78 139.18H396.18M398.59 118.71V129.29M397.39 118.71H399.79M397.39 129.29H399.79M402.21 132.75V138.05M401.01 132.75H403.41M401.01 138.05H403.41M405.82 124.64V132.96M404.62 124.64H407.02M404.62 132.96H407.02M409.43 114.73V126.07M408.23 114.73H410.63M408.23 126.07H410.63M413.05 124.98V131.02M411.85 124.98H414.25M411.85 131.02H414.25M416.66 111.86V120.94M415.46 111.86H417.86M415.46 120.94H417.86M420.27 128.31V132.09M419.07 128.31H421.47M419.07 132.09H421.47M423.88 113V119.8M422.69 113H425.08M422.69 119.8H425.08M427.5 128.09V137.91M426.3 128.09H428.7M426.3 137.91H428.7M431.11 110.13V114.67M429.91 110.13H432.31M429.91 114.67H432.31M434.72 118.12V125.68M433.52 118.12H435.92M433.52 125.68H435.92" stroke="#333" stroke-width="0.5" fill="none"/>
<g fill="#dadada" stroke="#666" stroke-width="0.7"><rect x="259.35" y="139.75" width="3.9" height="3.9"/><rect x="262.96" y="113.35" width="3.9" height="3.9"/><rect x="266.58" y="137.35" width="3.9" height="3.9"/><rect x="270.19" y="132.65" width="3.9" height="3.9"/><rect x="273.8" y="127.55" width="3.9" height="3.9"/><rect x="277.42" y="119.15" width="3.9" height="3.9"/><rect x="281.03" y="136.55" width="3.9" height="3.9"/><rect x="284.64" y="121.55" width="3.9" height="3.9"/><rect x="288.25" y="129.75" width="3.9" height="3.9"/><rect x="291.87" y="133.45" width="3.9" height="3.9"/><rect x="295.48" y="129.45" width="3.9" height="3.9"/><rect x="299.09" y="125.55" width="3.9" height="3.9"/><rect x="302.71" y="130.25" width="3.9" height="3.9"/><rect x="306.32" y="121.55" width="3.9" height="3.9"/><rect x="309.93" y="132.35" width="3.9" height="3.9"/><rect x="313.55" y="125.55" width="3.9" height="3.9"/><rect x="317.16" y="125.55" width="3.9" height="3.9"/><rect x="320.77" y="128.15" width="3.9" height="3.9"/><rect x="324.38" y="122.35" width="3.9" height="3.9"/><rect x="328" y="114.45" width="3.9" height="3.9"/><rect x="331.61" y="127.05" width="3.9" height="3.9"/><rect x="335.22" y="119.65" width="3.9" height="3.9"/><rect x="338.84" y="128.15" width="3.9" height="3.9"/><rect x="342.45" y="120.25" width="3.9" height="3.9"/><rect x="346.06" y="129.45" width="3.9" height="3.9"/><rect x="349.68" y="117.15" width="3.9" height="3.9"/><rect x="353.29" y="131.85" width="3.9" height="3.9"/><rect x="356.9" y="132.65" width="3.9" height="3.9"/><rect x="360.51" y="117.95" width="3.9" height="3.9"/><rect x="364.13" y="125.55" width="3.9" height="3.9"/><rect x="367.74" y="129.45" width="3.9" height="3.9"/><rect x="371.35" y="131.45" width="3.9" height="3.9"/><rect x="374.97" y="124.45" width="3.9" height="3.9"/><rect x="378.58" y="137.05" width="3.9" height="3.9"/><rect x="382.19" y="117.95" width="3.9" height="3.9"/><rect x="385.81" y="131.05" width="3.9" height="3.9"/><rect x="389.42" y="124.75" width="3.9" height="3.9"/><rect x="393.03" y="133.45" width="3.9" height="3.9"/><rect x="396.64" y="122.05" width="3.9" height="3.9"/><rect x="400.26" y="133.45" width="3.9" height="3.9"/><rect x="403.87" y="126.85" width="3.9" height="3.9"/><rect x="407.48" y="118.45" width="3.9" height="3.9"/><rect x="411.1" y="126.05" width="3.9" height="3.9"/><rect x="414.71" y="114.45" width="3.9" height="3.9"/><rect x="418.32" y="128.25" width="3.9" height="3.9"/><rect x="421.94" y="114.45" width="3.9" height="3.9"/><rect x="425.55" y="131.05" width="3.9" height="3.9"/><rect x="429.16" y="110.45" width="3.9" height="3.9"/><rect x="432.77" y="119.95" width="3.9" height="3.9"/></g>
<line x1="506.3" y1="78.7" x2="506.3" y2="167" stroke="#b0b0b0" stroke-width="1.1"/>
<line x1="505.8" y1="166.5" x2="678.78" y2="166.5" stroke="#999" stroke-width="0.9"/>
<line x1="504.7" y1="79.2" x2="506.3" y2="79.2" stroke="#b0b0b0" stroke-width="0.8"/>
<text x="504" y="81.79" font-size="7.4" text-anchor="end" font-weight="normal" fill="#333">30</text>
<line x1="504.7" y1="108.3" x2="506.3" y2="108.3" stroke="#b0b0b0" stroke-width="0.8"/>
<text x="504" y="110.89" font-size="7.4" text-anchor="end" font-weight="normal" fill="#333">20</text>
<line x1="504.7" y1="137.4" x2="506.3" y2="137.4" stroke="#b0b0b0" stroke-width="0.8"/>
<text x="504" y="139.99" font-size="7.4" text-anchor="end" font-weight="normal" fill="#333">10</text>
<line x1="504.7" y1="166.5" x2="506.3" y2="166.5" stroke="#b0b0b0" stroke-width="0.8"/>
<text x="504" y="169.09" font-size="7.4" text-anchor="end" font-weight="normal" fill="#333">0</text>
<line x1="506.3" y1="166.5" x2="506.3" y2="168.1" stroke="#b0b0b0" stroke-width="0.8"/>
<text x="506.3" y="175.4" font-size="7.4" text-anchor="middle" font-weight="normal" fill="#333">0</text>
<line x1="527.8" y1="166.5" x2="527.8" y2="168.1" stroke="#b0b0b0" stroke-width="0.8"/>
<text x="527.8" y="175.4" font-size="7.4" text-anchor="middle" font-weight="normal" fill="#333">6</text>
<line x1="549.3" y1="166.5" x2="549.3" y2="168.1" stroke="#b0b0b0" stroke-width="0.8"/>
<text x="549.3" y="175.4" font-size="7.4" text-anchor="middle" font-weight="normal" fill="#333">12</text>
<line x1="570.79" y1="166.5" x2="570.79" y2="168.1" stroke="#b0b0b0" stroke-width="0.8"/>
<text x="570.79" y="175.4" font-size="7.4" text-anchor="middle" font-weight="normal" fill="#333">18</text>
<line x1="592.29" y1="166.5" x2="592.29" y2="168.1" stroke="#b0b0b0" stroke-width="0.8"/>
<text x="592.29" y="175.4" font-size="7.4" text-anchor="middle" font-weight="normal" fill="#333">24</text>
<line x1="613.79" y1="166.5" x2="613.79" y2="168.1" stroke="#b0b0b0" stroke-width="0.8"/>
<text x="613.79" y="175.4" font-size="7.4" text-anchor="middle" font-weight="normal" fill="#333">30</text>
<line x1="635.29" y1="166.5" x2="635.29" y2="168.1" stroke="#b0b0b0" stroke-width="0.8"/>
<text x="635.29" y="175.4" font-size="7.4" text-anchor="middle" font-weight="normal" fill="#333">36</text>
<line x1="656.79" y1="166.5" x2="656.79" y2="168.1" stroke="#b0b0b0" stroke-width="0.8"/>
<text x="656.79" y="175.4" font-size="7.4" text-anchor="middle" font-weight="normal" fill="#333">42</text>
<line x1="678.28" y1="166.5" x2="678.28" y2="168.1" stroke="#b0b0b0" stroke-width="0.8"/>
<text x="678.28" y="175.4" font-size="7.4" text-anchor="middle" font-weight="normal" fill="#333">48</text>
<rect x="506.3" y="162.8" width="21.5" height="3.7" fill="#000"/>
<rect x="570.79" y="162.8" width="43" height="3.7" fill="#000"/>
<rect x="656.79" y="162.8" width="21.5" height="3.7" fill="#000"/>
<polyline points="506.3,126.2 509.88,134.3 513.47,133 517.05,135.2 520.63,123.7 524.22,131.8 527.8,139.4 531.38,135.6 534.96,133.8 538.55,133.1 542.13,135.9 545.71,131.3 549.3,135.5 552.88,128.6 556.46,136.6 560.05,124.8 563.63,134.1 567.21,134.8 570.79,115.5 574.38,112.3 577.96,114.1 581.54,123.8 585.13,137.3 588.71,126.9 592.29,133.8 595.88,137.3 599.46,132.2 603.04,137 606.62,134.7 610.21,141.4 613.79,127.8 617.37,131.5 620.96,135.6 624.54,134.7 628.12,138.4 631.71,130.8 635.29,135.6 638.87,130 642.45,137.9 646.04,122.3 649.62,129 653.2,115.6 656.79,113.4 660.37,111.6 663.95,128 667.54,113 671.12,128.5 674.7,113 678.28,119" fill="none" stroke="#222" stroke-width="0.55"/>
<path d="M506.3 123.23V129.17M505.1 123.23H507.5M505.1 129.17H507.5M509.88 130.25V138.35M508.68 130.25H511.08M508.68 138.35H511.08M513.47 130.84V135.16M512.27 130.84H514.67M512.27 135.16H514.67M517.05 131.96V138.44M515.85 131.96H518.25M515.85 138.44H518.25M520.63 122.35V125.05M519.43 122.35H521.83M519.43 125.05H521.83M524.22 129.37V134.23M523.01 129.37H525.42M523.01 134.23H525.42M527.8 135.89V142.91M526.6 135.89H529M526.6 142.91H529M531.38 133.98V137.22M530.18 133.98H532.58M530.18 137.22H532.58M534.96 131.1V136.5M533.76 131.1H536.16M533.76 136.5H536.16M538.55 129.32V136.88M537.35 129.32H539.75M537.35 136.88H539.75M542.13 134.01V137.79M540.93 134.01H543.33M540.93 137.79H543.33M545.71 128.33V134.27M544.51 128.33H546.91M544.51 134.27H546.91M549.3 131.45V139.55M548.1 131.45H550.5M548.1 139.55H550.5M552.88 126.44V130.76M551.68 126.44H554.08M551.68 130.76H554.08M556.46 133.36V139.84M555.26 133.36H557.66M555.26 139.84H557.66M560.05 123.45V126.15M558.85 123.45H561.25M558.85 126.15H561.25M563.63 131.67V136.53M562.43 131.67H564.83M562.43 136.53H564.83M567.21 131.29V138.31M566.01 131.29H568.41M566.01 138.31H568.41M570.79 113.88V117.12M569.59 113.88H571.99M569.59 117.12H571.99M574.38 109.6V115M573.18 109.6H575.58M573.18 115H575.58M577.96 110.32V117.88M576.76 110.32H579.16M576.76 117.88H579.16M581.54 121.91V125.69M580.34 121.91H582.74M580.34 125.69H582.74M585.13 134.33V140.27M583.93 134.33H586.33M583.93 140.27H586.33M588.71 122.85V130.95M587.51 122.85H589.91M587.51 130.95H589.91M592.29 131.64V135.96M591.09 131.64H593.49M591.09 135.96H593.49M595.88 134.06V140.54M594.67 134.06H597.08M594.67 140.54H597.08M599.46 130.85V133.55M598.26 130.85H600.66M598.26 133.55H600.66M603.04 134.57V139.43M601.84 134.57H604.24M601.84 139.43H604.24M606.62 131.19V138.21M605.42 131.19H607.82M605.42 138.21H607.82M610.21 139.78V143.02M609.01 139.78H611.41M609.01 143.02H611.41M613.79 125.1V130.5M612.59 125.1H614.99M612.59 130.5H614.99M617.37 127.72V135.28M616.17 127.72H618.57M616.17 135.28H618.57M620.96 133.71V137.49M619.76 133.71H622.16M619.76 137.49H622.16M624.54 131.73V137.67M623.34 131.73H625.74M623.34 137.67H625.74M628.12 134.35V142.45M626.92 134.35H629.32M626.92 142.45H629.32M631.71 128.64V132.96M630.5 128.64H632.91M630.5 132.96H632.91M635.29 132.36V138.84M634.09 132.36H636.49M634.09 138.84H636.49M638.87 128.65V131.35M637.67 128.65H640.07M637.67 131.35H640.07M642.45 135.47V140.33M641.25 135.47H643.65M641.25 140.33H643.65M646.04 118.79V125.81M644.84 118.79H647.24M644.84 125.81H647.24M649.62 127.38V130.62M648.42 127.38H650.82M648.42 130.62H650.82M653.2 112.9V118.3M652 112.9H654.4M652 118.3H654.4M656.79 109.62V117.18M655.59 109.62H657.99M655.59 117.18H657.99M660.37 109.71V113.49M659.17 109.71H661.57M659.17 113.49H661.57M663.95 125.03V130.97M662.75 125.03H665.15M662.75 130.97H665.15M667.54 108.95V117.05M666.34 108.95H668.74M666.34 117.05H668.74M671.12 126.34V130.66M669.92 126.34H672.32M669.92 130.66H672.32M674.7 109.76V116.24M673.5 109.76H675.9M673.5 116.24H675.9M678.28 117.65V120.35M677.08 117.65H679.48M677.08 120.35H679.48" stroke="#333" stroke-width="0.5" fill="none"/>
<g fill="#f47272" stroke="#5a1a1a" stroke-width="0.7"><rect x="504.4" y="124.3" width="3.8" height="3.8"/><rect x="507.98" y="132.4" width="3.8" height="3.8"/><rect x="511.57" y="131.1" width="3.8" height="3.8"/><rect x="515.15" y="133.3" width="3.8" height="3.8"/><rect x="518.73" y="121.8" width="3.8" height="3.8"/><rect x="522.32" y="129.9" width="3.8" height="3.8"/><rect x="525.9" y="137.5" width="3.8" height="3.8"/><rect x="529.48" y="133.7" width="3.8" height="3.8"/><rect x="533.06" y="131.9" width="3.8" height="3.8"/><rect x="536.65" y="131.2" width="3.8" height="3.8"/><rect x="540.23" y="134" width="3.8" height="3.8"/><rect x="543.81" y="129.4" width="3.8" height="3.8"/><rect x="547.4" y="133.6" width="3.8" height="3.8"/><rect x="550.98" y="126.7" width="3.8" height="3.8"/><rect x="554.56" y="134.7" width="3.8" height="3.8"/><rect x="558.15" y="122.9" width="3.8" height="3.8"/><rect x="561.73" y="132.2" width="3.8" height="3.8"/><rect x="565.31" y="132.9" width="3.8" height="3.8"/><rect x="568.89" y="113.6" width="3.8" height="3.8"/><rect x="572.48" y="110.4" width="3.8" height="3.8"/><rect x="576.06" y="112.2" width="3.8" height="3.8"/><rect x="579.64" y="121.9" width="3.8" height="3.8"/><rect x="583.23" y="135.4" width="3.8" height="3.8"/><rect x="586.81" y="125" width="3.8" height="3.8"/><rect x="590.39" y="131.9" width="3.8" height="3.8"/><rect x="593.98" y="135.4" width="3.8" height="3.8"/><rect x="597.56" y="130.3" width="3.8" height="3.8"/><rect x="601.14" y="135.1" width="3.8" height="3.8"/><rect x="604.72" y="132.8" width="3.8" height="3.8"/><rect x="608.31" y="139.5" width="3.8" height="3.8"/><rect x="611.89" y="125.9" width="3.8" height="3.8"/><rect x="615.47" y="129.6" width="3.8" height="3.8"/><rect x="619.06" y="133.7" width="3.8" height="3.8"/><rect x="622.64" y="132.8" width="3.8" height="3.8"/><rect x="626.22" y="136.5" width="3.8" height="3.8"/><rect x="629.81" y="128.9" width="3.8" height="3.8"/><rect x="633.39" y="133.7" width="3.8" height="3.8"/><rect x="636.97" y="128.1" width="3.8" height="3.8"/><rect x="640.55" y="136" width="3.8" height="3.8"/><rect x="644.14" y="120.4" width="3.8" height="3.8"/><rect x="647.72" y="127.1" width="3.8" height="3.8"/><rect x="651.3" y="113.7" width="3.8" height="3.8"/><rect x="654.89" y="111.5" width="3.8" height="3.8"/><rect x="658.47" y="109.7" width="3.8" height="3.8"/><rect x="662.05" y="126.1" width="3.8" height="3.8"/><rect x="665.64" y="111.1" width="3.8" height="3.8"/><rect x="669.22" y="126.6" width="3.8" height="3.8"/><rect x="672.8" y="111.1" width="3.8" height="3.8"/><rect x="676.38" y="117.1" width="3.8" height="3.8"/></g>
<polyline points="506.3,134.5 509.88,116.9 513.47,132.2 517.05,129 520.63,126.6 524.22,120.4 527.8,132.2 531.38,122.5 534.96,128 538.55,130.4 542.13,128.3 545.71,124.8 549.3,128.3 552.88,121.6 556.46,129.4 560.05,124.1 563.63,124.1 567.21,126.2 570.79,122 574.38,117.2 577.96,125.2 581.54,120 585.13,126.2 588.71,120.7 592.29,127.2 595.88,118.4 599.46,128.9 603.04,129.3 606.62,119.8 610.21,124.2 613.79,126.4 617.37,128.3 620.96,123.5 624.54,131.9 628.12,119.1 631.71,128.3 635.29,122.4 638.87,129.3 642.45,121.5 646.04,129 649.62,125.3 653.2,119.3 656.79,124.1 660.37,116.6 663.95,126 667.54,116 671.12,127.5 674.7,114 678.28,120" fill="none" stroke="#222" stroke-width="0.55"/>
<path d="M506.3 133.15V135.85M505.1 133.15H507.5M505.1 135.85H507.5M509.88 114.47V119.33M508.68 114.47H511.08M508.68 119.33H511.08M513.47 128.69V135.71M512.27 128.69H514.67M512.27 135.71H514.67M517.05 127.38V130.62M515.85 127.38H518.25M515.85 130.62H518.25M520.63 123.9V129.3M519.43 123.9H521.83M519.43 129.3H521.83M524.22 116.62V124.18M523.01 116.62H525.42M523.01 124.18H525.42M527.8 130.31V134.09M526.6 130.31H529M526.6 134.09H529M531.38 119.53V125.47M530.18 119.53H532.58M530.18 125.47H532.58M534.96 123.95V132.05M533.76 123.95H536.16M533.76 132.05H536.16M538.55 128.24V132.56M537.35 128.24H539.75M537.35 132.56H539.75M542.13 125.06V131.54M540.93 125.06H543.33M540.93 131.54H543.33M545.71 123.45V126.15M544.51 123.45H546.91M544.51 126.15H546.91M549.3 125.87V130.73M548.1 125.87H550.5M548.1 130.73H550.5M552.88 118.09V125.11M551.68 118.09H554.08M551.68 125.11H554.08M556.46 127.78V131.02M555.26 127.78H557.66M555.26 131.02H557.66M560.05 121.4V126.8M558.85 121.4H561.25M558.85 126.8H561.25M563.63 120.32V127.88M562.43 120.32H564.83M562.43 127.88H564.83M567.21 124.31V128.09M566.01 124.31H568.41M566.01 128.09H568.41M570.79 119.03V124.97M569.59 119.03H571.99M569.59 124.97H571.99M574.38 113.15V121.25M573.18 113.15H575.58M573.18 121.25H575.58M577.96 123.04V127.36M576.76 123.04H579.16M576.76 127.36H579.16M581.54 116.76V123.24M580.34 116.76H582.74M580.34 123.24H582.74M585.13 124.85V127.55M583.93 124.85H586.33M583.93 127.55H586.33M588.71 118.27V123.13M587.51 118.27H589.91M587.51 123.13H589.91M592.29 123.69V130.71M591.09 123.69H593.49M591.09 130.71H593.49M595.88 116.78V120.02M594.67 116.78H597.08M594.67 120.02H597.08M599.46 126.2V131.6M598.26 126.2H600.66M598.26 131.6H600.66M603.04 125.52V133.08M601.84 125.52H604.24M601.84 133.08H604.24M606.62 117.91V121.69M605.42 117.91H607.82M605.42 121.69H607.82M610.21 121.23V127.17M609.01 121.23H611.41M609.01 127.17H611.41M613.79 122.35V130.45M612.59 122.35H614.99M612.59 130.45H614.99M617.37 126.14V130.46M616.17 126.14H618.57M616.17 130.46H618.57M620.96 120.26V126.74M619.76 120.26H622.16M619.76 126.74H622.16M624.54 130.55V133.25M623.34 130.55H625.74M623.34 133.25H625.74M628.12 116.67V121.53M626.92 116.67H629.32M626.92 121.53H629.32M631.71 124.79V131.81M630.5 124.79H632.91M630.5 131.81H632.91M635.29 120.78V124.02M634.09 120.78H636.49M634.09 124.02H636.49M638.87 126.6V132M637.67 126.6H640.07M637.67 132H640.07M642.45 117.72V125.28M641.25 117.72H643.65M641.25 125.28H643.65M646.04 127.11V130.89M644.84 127.11H647.24M644.84 130.89H647.24M649.62 122.33V128.27M648.42 122.33H650.82M648.42 128.27H650.82M653.2 115.25V123.35M652 115.25H654.4M652 123.35H654.4M656.79 121.94V126.26M655.59 121.94H657.99M655.59 126.26H657.99M660.37 113.36V119.84M659.17 113.36H661.57M659.17 119.84H661.57M663.95 124.65V127.35M662.75 124.65H665.15M662.75 127.35H665.15M667.54 113.57V118.43M666.34 113.57H668.74M666.34 118.43H668.74M671.12 123.99V131.01M669.92 123.99H672.32M669.92 131.01H672.32M674.7 112.38V115.62M673.5 112.38H675.9M673.5 115.62H675.9M678.28 117.3V122.7M677.08 117.3H679.48M677.08 122.7H679.48" stroke="#333" stroke-width="0.5" fill="none"/>
<g fill="#dadada" stroke="#666" stroke-width="0.7"><rect x="504.4" y="132.6" width="3.8" height="3.8"/><rect x="507.98" y="115" width="3.8" height="3.8"/><rect x="511.57" y="130.3" width="3.8" height="3.8"/><rect x="515.15" y="127.1" width="3.8" height="3.8"/><rect x="518.73" y="124.7" width="3.8" height="3.8"/><rect x="522.32" y="118.5" width="3.8" height="3.8"/><rect x="525.9" y="130.3" width="3.8" height="3.8"/><rect x="529.48" y="120.6" width="3.8" height="3.8"/><rect x="533.06" y="126.1" width="3.8" height="3.8"/><rect x="536.65" y="128.5" width="3.8" height="3.8"/><rect x="540.23" y="126.4" width="3.8" height="3.8"/><rect x="543.81" y="122.9" width="3.8" height="3.8"/><rect x="547.4" y="126.4" width="3.8" height="3.8"/><rect x="550.98" y="119.7" width="3.8" height="3.8"/><rect x="554.56" y="127.5" width="3.8" height="3.8"/><rect x="558.15" y="122.2" width="3.8" height="3.8"/><rect x="561.73" y="122.2" width="3.8" height="3.8"/><rect x="565.31" y="124.3" width="3.8" height="3.8"/><rect x="568.89" y="120.1" width="3.8" height="3.8"/><rect x="572.48" y="115.3" width="3.8" height="3.8"/><rect x="576.06" y="123.3" width="3.8" height="3.8"/><rect x="579.64" y="118.1" width="3.8" height="3.8"/><rect x="583.23" y="124.3" width="3.8" height="3.8"/><rect x="586.81" y="118.8" width="3.8" height="3.8"/><rect x="590.39" y="125.3" width="3.8" height="3.8"/><rect x="593.98" y="116.5" width="3.8" height="3.8"/><rect x="597.56" y="127" width="3.8" height="3.8"/><rect x="601.14" y="127.4" width="3.8" height="3.8"/><rect x="604.72" y="117.9" width="3.8" height="3.8"/><rect x="608.31" y="122.3" width="3.8" height="3.8"/><rect x="611.89" y="124.5" width="3.8" height="3.8"/><rect x="615.47" y="126.4" width="3.8" height="3.8"/><rect x="619.06" y="121.6" width="3.8" height="3.8"/><rect x="622.64" y="130" width="3.8" height="3.8"/><rect x="626.22" y="117.2" width="3.8" height="3.8"/><rect x="629.81" y="126.4" width="3.8" height="3.8"/><rect x="633.39" y="120.5" width="3.8" height="3.8"/><rect x="636.97" y="127.4" width="3.8" height="3.8"/><rect x="640.55" y="119.6" width="3.8" height="3.8"/><rect x="644.14" y="127.1" width="3.8" height="3.8"/><rect x="647.72" y="123.4" width="3.8" height="3.8"/><rect x="651.3" y="117.4" width="3.8" height="3.8"/><rect x="654.89" y="122.2" width="3.8" height="3.8"/><rect x="658.47" y="114.7" width="3.8" height="3.8"/><rect x="662.05" y="124.1" width="3.8" height="3.8"/><rect x="665.64" y="114.1" width="3.8" height="3.8"/><rect x="669.22" y="125.6" width="3.8" height="3.8"/><rect x="672.8" y="112.1" width="3.8" height="3.8"/><rect x="676.38" y="118.1" width="3.8" height="3.8"/></g>
<line x1="37.6" y1="388.5" x2="37.6" y2="476.8" stroke="#888" stroke-width="1.1"/>
<line x1="37.1" y1="476.3" x2="203.41" y2="476.3" stroke="#333" stroke-width="0.9"/>
<line x1="36" y1="389" x2="37.6" y2="389" stroke="#888" stroke-width="0.8"/>
<text x="35.3" y="391.45" font-size="7" text-anchor="end" font-weight="normal" fill="#333">6000</text>
<line x1="36" y1="406.4" x2="37.6" y2="406.4" stroke="#888" stroke-width="0.8"/>
<text x="35.3" y="408.85" font-size="7" text-anchor="end" font-weight="normal" fill="#333">5000</text>
<line x1="36" y1="423.9" x2="37.6" y2="423.9" stroke="#888" stroke-width="0.8"/>
<text x="35.3" y="426.35" font-size="7" text-anchor="end" font-weight="normal" fill="#333">4000</text>
<line x1="36" y1="441.6" x2="37.6" y2="441.6" stroke="#888" stroke-width="0.8"/>
<text x="35.3" y="444.05" font-size="7" text-anchor="end" font-weight="normal" fill="#333">3000</text>
<line x1="36" y1="459.2" x2="37.6" y2="459.2" stroke="#888" stroke-width="0.8"/>
<text x="35.3" y="461.65" font-size="7" text-anchor="end" font-weight="normal" fill="#333">2000</text>
<line x1="36" y1="476.5" x2="37.6" y2="476.5" stroke="#888" stroke-width="0.8"/>
<text x="35.3" y="478.95" font-size="7" text-anchor="end" font-weight="normal" fill="#333">1000</text>
<line x1="37.6" y1="476.3" x2="37.6" y2="477.9" stroke="#888" stroke-width="0.8"/>
<text x="37.6" y="485.2" font-size="7" text-anchor="middle" font-weight="normal" fill="#333">0</text>
<line x1="58.26" y1="476.3" x2="58.26" y2="477.9" stroke="#888" stroke-width="0.8"/>
<text x="58.26" y="485.2" font-size="7" text-anchor="middle" font-weight="normal" fill="#333">6</text>
<line x1="78.93" y1="476.3" x2="78.93" y2="477.9" stroke="#888" stroke-width="0.8"/>
<text x="78.93" y="485.2" font-size="7" text-anchor="middle" font-weight="normal" fill="#333">12</text>
<line x1="99.59" y1="476.3" x2="99.59" y2="477.9" stroke="#888" stroke-width="0.8"/>
<text x="99.59" y="485.2" font-size="7" text-anchor="middle" font-weight="normal" fill="#333">18</text>
<line x1="120.26" y1="476.3" x2="120.26" y2="477.9" stroke="#888" stroke-width="0.8"/>
<text x="120.26" y="485.2" font-size="7" text-anchor="middle" font-weight="normal" fill="#333">24</text>
<line x1="140.92" y1="476.3" x2="140.92" y2="477.9" stroke="#888" stroke-width="0.8"/>
<text x="140.92" y="485.2" font-size="7" text-anchor="middle" font-weight="normal" fill="#333">30</text>
<line x1="161.58" y1="476.3" x2="161.58" y2="477.9" stroke="#888" stroke-width="0.8"/>
<text x="161.58" y="485.2" font-size="7" text-anchor="middle" font-weight="normal" fill="#333">36</text>
<line x1="182.25" y1="476.3" x2="182.25" y2="477.9" stroke="#888" stroke-width="0.8"/>
<text x="182.25" y="485.2" font-size="7" text-anchor="middle" font-weight="normal" fill="#333">42</text>
<line x1="202.91" y1="476.3" x2="202.91" y2="477.9" stroke="#888" stroke-width="0.8"/>
<text x="202.91" y="485.2" font-size="7" text-anchor="middle" font-weight="normal" fill="#333">48</text>
<rect x="37.6" y="472.6" width="20.66" height="3.7" fill="#000"/>
<rect x="99.59" y="472.6" width="41.33" height="3.7" fill="#000"/>
<rect x="182.25" y="472.6" width="20.66" height="3.7" fill="#000"/>
<polyline points="37.6,424.9 41.04,440.4 44.49,440.4 47.93,440.7 51.38,451.3 54.82,442.9 58.26,445.1 61.71,426.9 65.15,432 68.6,446.8 72.04,439 75.48,448.8 78.93,448.5 82.37,444.1 85.82,445.8 89.26,449.6 92.7,446.8 96.15,445.4 99.59,427.8 103.04,441.2 106.48,426.9 109.92,437 113.37,437 116.81,421.5 120.26,438.7 123.7,425.6 127.14,442.4 130.59,442.4 134.03,440.4 137.48,434.5 140.92,445.1 144.36,429 147.81,443.5 151.25,450.5 154.7,432.8 158.14,443 161.58,440 165.03,437.9 168.47,445.8 171.92,436.2 175.36,445.1 178.8,438.4 182.25,430 185.69,435.7 189.14,432.8 192.58,431.7 196.02,434.5 199.47,430 202.91,432" fill="none" stroke="#222" stroke-width="0.55"/>
<path d="M37.6 420.74V429.06M36.4 420.74H38.8M36.4 429.06H38.8M41.04 434.73V446.07M39.84 434.73H42.24M39.84 446.07H42.24M44.49 437.38V443.42M43.29 437.38H45.69M43.29 443.42H45.69M47.93 436.16V445.24M46.73 436.16H49.13M46.73 445.24H49.13M51.38 449.41V453.19M50.18 449.41H52.58M50.18 453.19H52.58M54.82 439.5V446.3M53.62 439.5H56.02M53.62 446.3H56.02M58.26 440.19V450.01M57.06 440.19H59.46M57.06 450.01H59.46M61.71 424.63V429.17M60.51 424.63H62.91M60.51 429.17H62.91M65.15 428.22V435.78M63.95 428.22H66.35M63.95 435.78H66.35M68.6 441.51V452.09M67.4 441.51H69.8M67.4 452.09H69.8M72.04 436.35V441.65M70.84 436.35H73.24M70.84 441.65H73.24M75.48 444.64V452.96M74.28 444.64H76.68M74.28 452.96H76.68M78.93 442.83V454.17M77.73 442.83H80.13M77.73 454.17H80.13M82.37 441.08V447.12M81.17 441.08H83.57M81.17 447.12H83.57M85.82 441.26V450.34M84.62 441.26H87.02M84.62 450.34H87.02M89.26 447.71V451.49M88.06 447.71H90.46M88.06 451.49H90.46M92.7 443.4V450.2M91.5 443.4H93.9M91.5 450.2H93.9M96.15 440.49V450.31M94.95 440.49H97.35M94.95 450.31H97.35M99.59 425.53V430.07M98.39 425.53H100.79M98.39 430.07H100.79M103.04 437.42V444.98M101.84 437.42H104.24M101.84 444.98H104.24M106.48 421.61V432.19M105.28 421.61H107.68M105.28 432.19H107.68M109.92 434.35V439.65M108.72 434.35H111.12M108.72 439.65H111.12M113.37 432.84V441.16M112.17 432.84H114.57M112.17 441.16H114.57M116.81 415.83V427.17M115.61 415.83H118.01M115.61 427.17H118.01M120.26 435.68V441.72M119.06 435.68H121.46M119.06 441.72H121.46M123.7 421.06V430.14M122.5 421.06H124.9M122.5 430.14H124.9M127.14 440.51V444.29M125.94 440.51H128.34M125.94 444.29H128.34M130.59 439V445.8M129.39 439H131.79M129.39 445.8H131.79M134.03 435.49V445.31M132.83 435.49H135.23M132.83 445.31H135.23M137.48 432.23V436.77M136.28 432.23H138.68M136.28 436.77H138.68M140.92 441.32V448.88M139.72 441.32H142.12M139.72 448.88H142.12M144.36 423.71V434.29M143.16 423.71H145.56M143.16 434.29H145.56M147.81 440.85V446.15M146.61 440.85H149.01M146.61 446.15H149.01M151.25 446.34V454.66M150.05 446.34H152.45M150.05 454.66H152.45M154.7 427.13V438.47M153.5 427.13H155.9M153.5 438.47H155.9M158.14 439.98V446.02M156.94 439.98H159.34M156.94 446.02H159.34M161.58 435.46V444.54M160.38 435.46H162.78M160.38 444.54H162.78M165.03 436.01V439.79M163.83 436.01H166.23M163.83 439.79H166.23M168.47 442.4V449.2M167.27 442.4H169.67M167.27 449.2H169.67M171.92 431.29V441.11M170.72 431.29H173.12M170.72 441.11H173.12M175.36 442.83V447.37M174.16 442.83H176.56M174.16 447.37H176.56M178.8 434.62V442.18M177.6 434.62H180M177.6 442.18H180M182.25 424.71V435.29M181.05 424.71H183.45M181.05 435.29H183.45M185.69 433.05V438.35M184.49 433.05H186.89M184.49 438.35H186.89M189.14 428.64V436.96M187.94 428.64H190.34M187.94 436.96H190.34M192.58 426.03V437.37M191.38 426.03H193.78M191.38 437.37H193.78M196.02 431.48V437.52M194.82 431.48H197.22M194.82 437.52H197.22M199.47 425.46V434.54M198.27 425.46H200.67M198.27 434.54H200.67M202.91 430.11V433.89M201.71 430.11H204.11M201.71 433.89H204.11" stroke="#333" stroke-width="0.5" fill="none"/>
<g fill="#ff0d0d" stroke="#200" stroke-width="0.7"><rect x="35.75" y="423.05" width="3.7" height="3.7"/><rect x="39.19" y="438.55" width="3.7" height="3.7"/><rect x="42.64" y="438.55" width="3.7" height="3.7"/><rect x="46.08" y="438.85" width="3.7" height="3.7"/><rect x="49.53" y="449.45" width="3.7" height="3.7"/><rect x="52.97" y="441.05" width="3.7" height="3.7"/><rect x="56.41" y="443.25" width="3.7" height="3.7"/><rect x="59.86" y="425.05" width="3.7" height="3.7"/><rect x="63.3" y="430.15" width="3.7" height="3.7"/><rect x="66.75" y="444.95" width="3.7" height="3.7"/><rect x="70.19" y="437.15" width="3.7" height="3.7"/><rect x="73.63" y="446.95" width="3.7" height="3.7"/><rect x="77.08" y="446.65" width="3.7" height="3.7"/><rect x="80.52" y="442.25" width="3.7" height="3.7"/><rect x="83.97" y="443.95" width="3.7" height="3.7"/><rect x="87.41" y="447.75" width="3.7" height="3.7"/><rect x="90.85" y="444.95" width="3.7" height="3.7"/><rect x="94.3" y="443.55" width="3.7" height="3.7"/><rect x="97.74" y="425.95" width="3.7" height="3.7"/><rect x="101.19" y="439.35" width="3.7" height="3.7"/><rect x="104.63" y="425.05" width="3.7" height="3.7"/><rect x="108.07" y="435.15" width="3.7" height="3.7"/><rect x="111.52" y="435.15" width="3.7" height="3.7"/><rect x="114.96" y="419.65" width="3.7" height="3.7"/><rect x="118.41" y="436.85" width="3.7" height="3.7"/><rect x="121.85" y="423.75" width="3.7" height="3.7"/><rect x="125.29" y="440.55" width="3.7" height="3.7"/><rect x="128.74" y="440.55" width="3.7" height="3.7"/><rect x="132.18" y="438.55" width="3.7" height="3.7"/><rect x="135.63" y="432.65" width="3.7" height="3.7"/><rect x="139.07" y="443.25" width="3.7" height="3.7"/><rect x="142.51" y="427.15" width="3.7" height="3.7"/><rect x="145.96" y="441.65" width="3.7" height="3.7"/><rect x="149.4" y="448.65" width="3.7" height="3.7"/><rect x="152.85" y="430.95" width="3.7" height="3.7"/><rect x="156.29" y="441.15" width="3.7" height="3.7"/><rect x="159.73" y="438.15" width="3.7" height="3.7"/><rect x="163.18" y="436.05" width="3.7" height="3.7"/><rect x="166.62" y="443.95" width="3.7" height="3.7"/><rect x="170.07" y="434.35" width="3.7" height="3.7"/><rect x="173.51" y="443.25" width="3.7" height="3.7"/><rect x="176.95" y="436.55" width="3.7" height="3.7"/><rect x="180.4" y="428.15" width="3.7" height="3.7"/><rect x="183.84" y="433.85" width="3.7" height="3.7"/><rect x="187.29" y="430.95" width="3.7" height="3.7"/><rect x="190.73" y="429.85" width="3.7" height="3.7"/><rect x="194.17" y="432.65" width="3.7" height="3.7"/><rect x="197.62" y="428.15" width="3.7" height="3.7"/><rect x="201.06" y="430.15" width="3.7" height="3.7"/></g>
<polyline points="37.6,426.6 41.04,439.5 44.49,434.5 47.93,436.2 51.38,447.1 54.82,445.1 58.26,454.7 61.71,448.8 65.15,439.9 68.6,456.4 72.04,458.5 75.48,454.7 78.93,454.7 82.37,432.8 85.82,431.6 89.26,430.6 92.7,425.6 96.15,423.6 99.59,414.8 103.04,413.1 106.48,414.8 109.92,422.2 113.37,416.8 116.81,408.7 120.26,407.6 123.7,409.3 127.14,412.1 130.59,425.3 134.03,427.3 137.48,414.8 140.92,416.8 144.36,411.8 147.81,426.9 151.25,431.2 154.7,443.5 158.14,444.6 161.58,440.4 165.03,422.2 168.47,437.9 171.92,436.2 175.36,430.3 178.8,426.9 182.25,406.4 185.69,408.8 189.14,407.1 192.58,408.8 196.02,408.1 199.47,405.1 202.91,406.7" fill="none" stroke="#222" stroke-width="0.55"/>
<path d="M37.6 424.71V428.49M36.4 424.71H38.8M36.4 428.49H38.8M41.04 436.1V442.9M39.84 436.1H42.24M39.84 442.9H42.24M44.49 429.59V439.41M43.29 429.59H45.69M43.29 439.41H45.69M47.93 433.93V438.47M46.73 433.93H49.13M46.73 438.47H49.13M51.38 443.32V450.88M50.18 443.32H52.58M50.18 450.88H52.58M54.82 439.81V450.39M53.62 439.81H56.02M53.62 450.39H56.02M58.26 452.05V457.35M57.06 452.05H59.46M57.06 457.35H59.46M61.71 444.64V452.96M60.51 444.64H62.91M60.51 452.96H62.91M65.15 434.23V445.57M63.95 434.23H66.35M63.95 445.57H66.35M68.6 453.38V459.42M67.4 453.38H69.8M67.4 459.42H69.8M72.04 453.96V463.04M70.84 453.96H73.24M70.84 463.04H73.24M75.48 452.81V456.59M74.28 452.81H76.68M74.28 456.59H76.68M78.93 451.3V458.1M77.73 451.3H80.13M77.73 458.1H80.13M82.37 427.89V437.71M81.17 427.89H83.57M81.17 437.71H83.57M85.82 429.33V433.87M84.62 429.33H87.02M84.62 433.87H87.02M89.26 426.82V434.38M88.06 426.82H90.46M88.06 434.38H90.46M92.7 420.31V430.89M91.5 420.31H93.9M91.5 430.89H93.9M96.15 420.95V426.25M94.95 420.95H97.35M94.95 426.25H97.35M99.59 410.64V418.96M98.39 410.64H100.79M98.39 418.96H100.79M103.04 407.43V418.77M101.84 407.43H104.24M101.84 418.77H104.24M106.48 411.78V417.82M105.28 411.78H107.68M105.28 417.82H107.68M109.92 417.66V426.74M108.72 417.66H111.12M108.72 426.74H111.12M113.37 414.91V418.69M112.17 414.91H114.57M112.17 418.69H114.57M116.81 405.3V412.1M115.61 405.3H118.01M115.61 412.1H118.01M120.26 402.69V412.51M119.06 402.69H121.46M119.06 412.51H121.46M123.7 407.03V411.57M122.5 407.03H124.9M122.5 411.57H124.9M127.14 408.32V415.88M125.94 408.32H128.34M125.94 415.88H128.34M130.59 420.01V430.59M129.39 420.01H131.79M129.39 430.59H131.79M134.03 424.65V429.95M132.83 424.65H135.23M132.83 429.95H135.23M137.48 410.64V418.96M136.28 410.64H138.68M136.28 418.96H138.68M140.92 411.13V422.47M139.72 411.13H142.12M139.72 422.47H142.12M144.36 408.78V414.82M143.16 408.78H145.56M143.16 414.82H145.56M147.81 422.36V431.44M146.61 422.36H149.01M146.61 431.44H149.01M151.25 429.31V433.09M150.05 429.31H152.45M150.05 433.09H152.45M154.7 440.1V446.9M153.5 440.1H155.9M153.5 446.9H155.9M158.14 439.69V449.51M156.94 439.69H159.34M156.94 449.51H159.34M161.58 438.13V442.67M160.38 438.13H162.78M160.38 442.67H162.78M165.03 418.42V425.98M163.83 418.42H166.23M163.83 425.98H166.23M168.47 432.61V443.19M167.27 432.61H169.67M167.27 443.19H169.67M171.92 433.55V438.85M170.72 433.55H173.12M170.72 438.85H173.12M175.36 426.14V434.46M174.16 426.14H176.56M174.16 434.46H176.56M178.8 421.23V432.57M177.6 421.23H180M177.6 432.57H180M182.25 403.38V409.42M181.05 403.38H183.45M181.05 409.42H183.45M185.69 404.26V413.34M184.49 404.26H186.89M184.49 413.34H186.89M189.14 405.21V408.99M187.94 405.21H190.34M187.94 408.99H190.34M192.58 405.4V412.2M191.38 405.4H193.78M191.38 412.2H193.78M196.02 403.19V413.01M194.82 403.19H197.22M194.82 413.01H197.22M199.47 402.83V407.37M198.27 402.83H200.67M198.27 407.37H200.67M202.91 402.92V410.48M201.71 402.92H204.11M201.71 410.48H204.11" stroke="#333" stroke-width="0.5" fill="none"/>
<g fill="#000" stroke="#000" stroke-width="0.7"><rect x="35.75" y="424.75" width="3.7" height="3.7"/><rect x="39.19" y="437.65" width="3.7" height="3.7"/><rect x="42.64" y="432.65" width="3.7" height="3.7"/><rect x="46.08" y="434.35" width="3.7" height="3.7"/><rect x="49.53" y="445.25" width="3.7" height="3.7"/><rect x="52.97" y="443.25" width="3.7" height="3.7"/><rect x="56.41" y="452.85" width="3.7" height="3.7"/><rect x="59.86" y="446.95" width="3.7" height="3.7"/><rect x="63.3" y="438.05" width="3.7" height="3.7"/><rect x="66.75" y="454.55" width="3.7" height="3.7"/><rect x="70.19" y="456.65" width="3.7" height="3.7"/><rect x="73.63" y="452.85" width="3.7" height="3.7"/><rect x="77.08" y="452.85" width="3.7" height="3.7"/><rect x="80.52" y="430.95" width="3.7" height="3.7"/><rect x="83.97" y="429.75" width="3.7" height="3.7"/><rect x="87.41" y="428.75" width="3.7" height="3.7"/><rect x="90.85" y="423.75" width="3.7" height="3.7"/><rect x="94.3" y="421.75" width="3.7" height="3.7"/><rect x="97.74" y="412.95" width="3.7" height="3.7"/><rect x="101.19" y="411.25" width="3.7" height="3.7"/><rect x="104.63" y="412.95" width="3.7" height="3.7"/><rect x="108.07" y="420.35" width="3.7" height="3.7"/><rect x="111.52" y="414.95" width="3.7" height="3.7"/><rect x="114.96" y="406.85" width="3.7" height="3.7"/><rect x="118.41" y="405.75" width="3.7" height="3.7"/><rect x="121.85" y="407.45" width="3.7" height="3.7"/><rect x="125.29" y="410.25" width="3.7" height="3.7"/><rect x="128.74" y="423.45" width="3.7" height="3.7"/><rect x="132.18" y="425.45" width="3.7" height="3.7"/><rect x="135.63" y="412.95" width="3.7" height="3.7"/><rect x="139.07" y="414.95" width="3.7" height="3.7"/><rect x="142.51" y="409.95" width="3.7" height="3.7"/><rect x="145.96" y="425.05" width="3.7" height="3.7"/><rect x="149.4" y="429.35" width="3.7" height="3.7"/><rect x="152.85" y="441.65" width="3.7" height="3.7"/><rect x="156.29" y="442.75" width="3.7" height="3.7"/><rect x="159.73" y="438.55" width="3.7" height="3.7"/><rect x="163.18" y="420.35" width="3.7" height="3.7"/><rect x="166.62" y="436.05" width="3.7" height="3.7"/><rect x="170.07" y="434.35" width="3.7" height="3.7"/><rect x="173.51" y="428.45" width="3.7" height="3.7"/><rect x="176.95" y="425.05" width="3.7" height="3.7"/><rect x="180.4" y="404.55" width="3.7" height="3.7"/><rect x="183.84" y="406.95" width="3.7" height="3.7"/><rect x="187.29" y="405.25" width="3.7" height="3.7"/><rect x="190.73" y="406.95" width="3.7" height="3.7"/><rect x="194.17" y="406.25" width="3.7" height="3.7"/><rect x="197.62" y="403.25" width="3.7" height="3.7"/><rect x="201.06" y="404.85" width="3.7" height="3.7"/></g>
<line x1="265" y1="388.1" x2="265" y2="475.6" stroke="#888" stroke-width="1.1"/>
<line x1="264.5" y1="475.1" x2="432.01" y2="475.1" stroke="#333" stroke-width="0.9"/>
<line x1="263.4" y1="388.6" x2="265" y2="388.6" stroke="#888" stroke-width="0.8"/>
<text x="262.7" y="391.05" font-size="7" text-anchor="end" font-weight="normal" fill="#333">6000</text>
<line x1="263.4" y1="405.9" x2="265" y2="405.9" stroke="#888" stroke-width="0.8"/>
<text x="262.7" y="408.35" font-size="7" text-anchor="end" font-weight="normal" fill="#333">5000</text>
<line x1="263.4" y1="423.2" x2="265" y2="423.2" stroke="#888" stroke-width="0.8"/>
<text x="262.7" y="425.65" font-size="7" text-anchor="end" font-weight="normal" fill="#333">4000</text>
<line x1="263.4" y1="440.5" x2="265" y2="440.5" stroke="#888" stroke-width="0.8"/>
<text x="262.7" y="442.95" font-size="7" text-anchor="end" font-weight="normal" fill="#333">3000</text>
<line x1="263.4" y1="457.8" x2="265" y2="457.8" stroke="#888" stroke-width="0.8"/>
<text x="262.7" y="460.25" font-size="7" text-anchor="end" font-weight="normal" fill="#333">2000</text>
<line x1="263.4" y1="475.1" x2="265" y2="475.1" stroke="#888" stroke-width="0.8"/>
<text x="262.7" y="477.55" font-size="7" text-anchor="end" font-weight="normal" fill="#333">1000</text>
<line x1="265" y1="475.1" x2="265" y2="476.7" stroke="#888" stroke-width="0.8"/>
<text x="265" y="484" font-size="7" text-anchor="middle" font-weight="normal" fill="#333">0</text>
<line x1="285.81" y1="475.1" x2="285.81" y2="476.7" stroke="#888" stroke-width="0.8"/>
<text x="285.81" y="484" font-size="7" text-anchor="middle" font-weight="normal" fill="#333">6</text>
<line x1="306.63" y1="475.1" x2="306.63" y2="476.7" stroke="#888" stroke-width="0.8"/>
<text x="306.63" y="484" font-size="7" text-anchor="middle" font-weight="normal" fill="#333">12</text>
<line x1="327.44" y1="475.1" x2="327.44" y2="476.7" stroke="#888" stroke-width="0.8"/>
<text x="327.44" y="484" font-size="7" text-anchor="middle" font-weight="normal" fill="#333">18</text>
<line x1="348.26" y1="475.1" x2="348.26" y2="476.7" stroke="#888" stroke-width="0.8"/>
<text x="348.26" y="484" font-size="7" text-anchor="middle" font-weight="normal" fill="#333">24</text>
<line x1="369.07" y1="475.1" x2="369.07" y2="476.7" stroke="#888" stroke-width="0.8"/>
<text x="369.07" y="484" font-size="7" text-anchor="middle" font-weight="normal" fill="#333">30</text>
<line x1="389.88" y1="475.1" x2="389.88" y2="476.7" stroke="#888" stroke-width="0.8"/>
<text x="389.88" y="484" font-size="7" text-anchor="middle" font-weight="normal" fill="#333">36</text>
<line x1="410.7" y1="475.1" x2="410.7" y2="476.7" stroke="#888" stroke-width="0.8"/>
<text x="410.7" y="484" font-size="7" text-anchor="middle" font-weight="normal" fill="#333">42</text>
<line x1="431.51" y1="475.1" x2="431.51" y2="476.7" stroke="#888" stroke-width="0.8"/>
<text x="431.51" y="484" font-size="7" text-anchor="middle" font-weight="normal" fill="#333">48</text>
<rect x="265" y="471.4" width="20.81" height="3.7" fill="#000"/>
<rect x="327.44" y="471.4" width="41.63" height="3.7" fill="#000"/>
<rect x="410.7" y="471.4" width="20.81" height="3.7" fill="#000"/>
<polyline points="265,426.2 268.47,441 271.94,445.4 275.41,436.9 278.88,450.3 282.35,435 285.81,443 289.28,452.3 292.75,439.4 296.22,448.3 299.69,452.3 303.16,437.4 306.63,450.3 310.1,436.1 313.57,428.9 317.03,426.6 320.5,429.5 323.97,431.5 327.44,420.2 330.91,423 334.38,425 337.85,425.6 341.32,422.2 344.79,424.2 348.26,428.9 351.73,428.5 355.19,429.5 358.66,427 362.13,427.5 365.6,434.1 369.07,438.8 372.54,436.5 376.01,439.4 379.48,440 382.95,439.4 386.41,436.9 389.88,443.4 393.35,442.8 396.82,443.4 400.29,439.4 403.76,436.9 407.23,436.1 410.7,428.9 414.17,430.9 417.64,436.5 421.11,428.1 424.57,440.8 428.04,433.5 431.51,441.4" fill="none" stroke="#222" stroke-width="0.55"/>
<path d="M265 422.44V429.96M263.8 422.44H266.2M263.8 429.96H266.2M268.47 435.87V446.13M267.27 435.87H269.67M267.27 446.13H269.67M271.94 442.66V448.14M270.74 442.66H273.14M270.74 448.14H273.14M275.41 432.8V441M274.21 432.8H276.61M274.21 441H276.61M278.88 448.59V452.01M277.68 448.59H280.08M277.68 452.01H280.08M282.35 431.92V438.08M281.15 431.92H283.55M281.15 438.08H283.55M285.81 438.55V447.45M284.61 438.55H287.01M284.61 447.45H287.01M289.28 450.25V454.35M288.08 450.25H290.48M288.08 454.35H290.48M292.75 435.98V442.82M291.55 435.98H293.95M291.55 442.82H293.95M296.22 443.51V453.09M295.02 443.51H297.42M295.02 453.09H297.42M299.69 449.91V454.69M298.49 449.91H300.89M298.49 454.69H300.89M303.16 433.64V441.16M301.96 433.64H304.36M301.96 441.16H304.36M306.63 445.17V455.43M305.43 445.17H307.83M305.43 455.43H307.83M310.1 433.36V438.84M308.9 433.36H311.3M308.9 438.84H311.3M313.57 424.8V433M312.37 424.8H314.77M312.37 433H314.77M317.03 424.89V428.31M315.83 424.89H318.23M315.83 428.31H318.23M320.5 426.42V432.58M319.3 426.42H321.7M319.3 432.58H321.7M323.97 427.05V435.95M322.77 427.05H325.17M322.77 435.95H325.17M327.44 418.15V422.25M326.24 418.15H328.64M326.24 422.25H328.64M330.91 419.58V426.42M329.71 419.58H332.11M329.71 426.42H332.11M334.38 420.21V429.79M333.18 420.21H335.58M333.18 429.79H335.58M337.85 423.21V427.99M336.65 423.21H339.05M336.65 427.99H339.05M341.32 418.44V425.96M340.12 418.44H342.52M340.12 425.96H342.52M344.79 419.07V429.33M343.59 419.07H345.99M343.59 429.33H345.99M348.26 426.16V431.64M347.06 426.16H349.46M347.06 431.64H349.46M351.73 424.4V432.6M350.53 424.4H352.93M350.53 432.6H352.93M355.19 427.79V431.21M353.99 427.79H356.39M353.99 431.21H356.39M358.66 423.92V430.08M357.46 423.92H359.86M357.46 430.08H359.86M362.13 423.05V431.95M360.93 423.05H363.33M360.93 431.95H363.33M365.6 432.05V436.15M364.4 432.05H366.8M364.4 436.15H366.8M369.07 435.38V442.22M367.87 435.38H370.27M367.87 442.22H370.27M372.54 431.71V441.29M371.34 431.71H373.74M371.34 441.29H373.74M376.01 437.01V441.79M374.81 437.01H377.21M374.81 441.79H377.21M379.48 436.24V443.76M378.28 436.24H380.68M378.28 443.76H380.68M382.95 434.27V444.53M381.75 434.27H384.15M381.75 444.53H384.15M386.41 434.16V439.64M385.21 434.16H387.61M385.21 439.64H387.61M389.88 439.3V447.5M388.68 439.3H391.08M388.68 447.5H391.08M393.35 441.09V444.51M392.15 441.09H394.55M392.15 444.51H394.55M396.82 440.32V446.48M395.62 440.32H398.02M395.62 446.48H398.02M400.29 434.95V443.85M399.09 434.95H401.49M399.09 443.85H401.49M403.76 434.85V438.95M402.56 434.85H404.96M402.56 438.95H404.96M407.23 432.68V439.52M406.03 432.68H408.43M406.03 439.52H408.43M410.7 424.11V433.69M409.5 424.11H411.9M409.5 433.69H411.9M414.17 428.51V433.29M412.97 428.51H415.37M412.97 433.29H415.37M417.64 432.74V440.26M416.44 432.74H418.84M416.44 440.26H418.84M421.11 422.97V433.23M419.91 422.97H422.31M419.91 433.23H422.31M424.57 438.06V443.54M423.37 438.06H425.77M423.37 443.54H425.77M428.04 429.4V437.6M426.84 429.4H429.24M426.84 437.6H429.24M431.51 439.69V443.11M430.31 439.69H432.71M430.31 443.11H432.71" stroke="#333" stroke-width="0.5" fill="none"/>
<g fill="#ff0d0d" stroke="#200" stroke-width="0.7"><rect x="263.15" y="424.35" width="3.7" height="3.7"/><rect x="266.62" y="439.15" width="3.7" height="3.7"/><rect x="270.09" y="443.55" width="3.7" height="3.7"/><rect x="273.56" y="435.05" width="3.7" height="3.7"/><rect x="277.03" y="448.45" width="3.7" height="3.7"/><rect x="280.5" y="433.15" width="3.7" height="3.7"/><rect x="283.96" y="441.15" width="3.7" height="3.7"/><rect x="287.43" y="450.45" width="3.7" height="3.7"/><rect x="290.9" y="437.55" width="3.7" height="3.7"/><rect x="294.37" y="446.45" width="3.7" height="3.7"/><rect x="297.84" y="450.45" width="3.7" height="3.7"/><rect x="301.31" y="435.55" width="3.7" height="3.7"/><rect x="304.78" y="448.45" width="3.7" height="3.7"/><rect x="308.25" y="434.25" width="3.7" height="3.7"/><rect x="311.72" y="427.05" width="3.7" height="3.7"/><rect x="315.18" y="424.75" width="3.7" height="3.7"/><rect x="318.65" y="427.65" width="3.7" height="3.7"/><rect x="322.12" y="429.65" width="3.7" height="3.7"/><rect x="325.59" y="418.35" width="3.7" height="3.7"/><rect x="329.06" y="421.15" width="3.7" height="3.7"/><rect x="332.53" y="423.15" width="3.7" height="3.7"/><rect x="336" y="423.75" width="3.7" height="3.7"/><rect x="339.47" y="420.35" width="3.7" height="3.7"/><rect x="342.94" y="422.35" width="3.7" height="3.7"/><rect x="346.41" y="427.05" width="3.7" height="3.7"/><rect x="349.88" y="426.65" width="3.7" height="3.7"/><rect x="353.34" y="427.65" width="3.7" height="3.7"/><rect x="356.81" y="425.15" width="3.7" height="3.7"/><rect x="360.28" y="425.65" width="3.7" height="3.7"/><rect x="363.75" y="432.25" width="3.7" height="3.7"/><rect x="367.22" y="436.95" width="3.7" height="3.7"/><rect x="370.69" y="434.65" width="3.7" height="3.7"/><rect x="374.16" y="437.55" width="3.7" height="3.7"/><rect x="377.63" y="438.15" width="3.7" height="3.7"/><rect x="381.1" y="437.55" width="3.7" height="3.7"/><rect x="384.56" y="435.05" width="3.7" height="3.7"/><rect x="388.03" y="441.55" width="3.7" height="3.7"/><rect x="391.5" y="440.95" width="3.7" height="3.7"/><rect x="394.97" y="441.55" width="3.7" height="3.7"/><rect x="398.44" y="437.55" width="3.7" height="3.7"/><rect x="401.91" y="435.05" width="3.7" height="3.7"/><rect x="405.38" y="434.25" width="3.7" height="3.7"/><rect x="408.85" y="427.05" width="3.7" height="3.7"/><rect x="412.32" y="429.05" width="3.7" height="3.7"/><rect x="415.79" y="434.65" width="3.7" height="3.7"/><rect x="419.25" y="426.25" width="3.7" height="3.7"/><rect x="422.72" y="438.95" width="3.7" height="3.7"/><rect x="426.19" y="431.65" width="3.7" height="3.7"/><rect x="429.66" y="439.55" width="3.7" height="3.7"/></g>
<polyline points="265,420.6 268.47,434.1 271.94,425.6 275.41,424.6 278.88,432.5 282.35,434.5 285.81,445.4 289.28,436.1 292.75,445.4 296.22,446 299.69,446.7 303.16,442 306.63,441.4 310.1,421 313.57,428.1 317.03,428.9 320.5,425.6 323.97,423 327.44,415.1 330.91,413.1 334.38,415.1 337.85,421.6 341.32,418.6 344.79,409.7 348.26,408.7 351.73,409.7 355.19,412.7 358.66,426.2 362.13,427.5 365.6,416.3 369.07,417.1 372.54,413.1 376.01,427 379.48,428.5 382.95,435.5 386.41,432.9 389.88,429.5 393.35,419 396.82,430.5 400.29,427 403.76,427 407.23,427 410.7,407.8 414.17,410.3 417.64,408.7 421.11,411.1 424.57,407.8 428.04,404.4 431.51,405.8" fill="none" stroke="#222" stroke-width="0.55"/>
<path d="M265 418.89V422.31M263.8 418.89H266.2M263.8 422.31H266.2M268.47 431.02V437.18M267.27 431.02H269.67M267.27 437.18H269.67M271.94 421.15V430.05M270.74 421.15H273.14M270.74 430.05H273.14M275.41 422.55V426.65M274.21 422.55H276.61M274.21 426.65H276.61M278.88 429.08V435.92M277.68 429.08H280.08M277.68 435.92H280.08M282.35 429.71V439.29M281.15 429.71H283.55M281.15 439.29H283.55M285.81 443.01V447.79M284.61 443.01H287.01M284.61 447.79H287.01M289.28 432.34V439.86M288.08 432.34H290.48M288.08 439.86H290.48M292.75 440.27V450.53M291.55 440.27H293.95M291.55 450.53H293.95M296.22 443.26V448.74M295.02 443.26H297.42M295.02 448.74H297.42M299.69 442.6V450.8M298.49 442.6H300.89M298.49 450.8H300.89M303.16 440.29V443.71M301.96 440.29H304.36M301.96 443.71H304.36M306.63 438.32V444.48M305.43 438.32H307.83M305.43 444.48H307.83M310.1 416.55V425.45M308.9 416.55H311.3M308.9 425.45H311.3M313.57 426.05V430.15M312.37 426.05H314.77M312.37 430.15H314.77M317.03 425.48V432.32M315.83 425.48H318.23M315.83 432.32H318.23M320.5 420.81V430.39M319.3 420.81H321.7M319.3 430.39H321.7M323.97 420.61V425.39M322.77 420.61H325.17M322.77 425.39H325.17M327.44 411.34V418.86M326.24 411.34H328.64M326.24 418.86H328.64M330.91 407.97V418.23M329.71 407.97H332.11M329.71 418.23H332.11M334.38 412.36V417.84M333.18 412.36H335.58M333.18 417.84H335.58M337.85 417.5V425.7M336.65 417.5H339.05M336.65 425.7H339.05M341.32 416.89V420.31M340.12 416.89H342.52M340.12 420.31H342.52M344.79 406.62V412.78M343.59 406.62H345.99M343.59 412.78H345.99M348.26 404.25V413.15M347.06 404.25H349.46M347.06 413.15H349.46M351.73 407.65V411.75M350.53 407.65H352.93M350.53 411.75H352.93M355.19 409.28V416.12M353.99 409.28H356.39M353.99 416.12H356.39M358.66 421.41V430.99M357.46 421.41H359.86M357.46 430.99H359.86M362.13 425.11V429.89M360.93 425.11H363.33M360.93 429.89H363.33M365.6 412.54V420.06M364.4 412.54H366.8M364.4 420.06H366.8M369.07 411.97V422.23M367.87 411.97H370.27M367.87 422.23H370.27M372.54 410.36V415.84M371.34 410.36H373.74M371.34 415.84H373.74M376.01 422.9V431.1M374.81 422.9H377.21M374.81 431.1H377.21M379.48 426.79V430.21M378.28 426.79H380.68M378.28 430.21H380.68M382.95 432.42V438.58M381.75 432.42H384.15M381.75 438.58H384.15M386.41 428.45V437.35M385.21 428.45H387.61M385.21 437.35H387.61M389.88 427.45V431.55M388.68 427.45H391.08M388.68 431.55H391.08M393.35 415.58V422.42M392.15 415.58H394.55M392.15 422.42H394.55M396.82 425.71V435.29M395.62 425.71H398.02M395.62 435.29H398.02M400.29 424.61V429.39M399.09 424.61H401.49M399.09 429.39H401.49M403.76 423.24V430.76M402.56 423.24H404.96M402.56 430.76H404.96M407.23 421.87V432.13M406.03 421.87H408.43M406.03 432.13H408.43M410.7 405.06V410.54M409.5 405.06H411.9M409.5 410.54H411.9M414.17 406.2V414.4M412.97 406.2H415.37M412.97 414.4H415.37M417.64 406.99V410.41M416.44 406.99H418.84M416.44 410.41H418.84M421.11 408.02V414.18M419.91 408.02H422.31M419.91 414.18H422.31M424.57 403.35V412.25M423.37 403.35H425.77M423.37 412.25H425.77M428.04 402.35V406.45M426.84 402.35H429.24M426.84 406.45H429.24M431.51 402.38V409.22M430.31 402.38H432.71M430.31 409.22H432.71" stroke="#333" stroke-width="0.5" fill="none"/>
<g fill="#000" stroke="#000" stroke-width="0.7"><rect x="263.15" y="418.75" width="3.7" height="3.7"/><rect x="266.62" y="432.25" width="3.7" height="3.7"/><rect x="270.09" y="423.75" width="3.7" height="3.7"/><rect x="273.56" y="422.75" width="3.7" height="3.7"/><rect x="277.03" y="430.65" width="3.7" height="3.7"/><rect x="280.5" y="432.65" width="3.7" height="3.7"/><rect x="283.96" y="443.55" width="3.7" height="3.7"/><rect x="287.43" y="434.25" width="3.7" height="3.7"/><rect x="290.9" y="443.55" width="3.7" height="3.7"/><rect x="294.37" y="444.15" width="3.7" height="3.7"/><rect x="297.84" y="444.85" width="3.7" height="3.7"/><rect x="301.31" y="440.15" width="3.7" height="3.7"/><rect x="304.78" y="439.55" width="3.7" height="3.7"/><rect x="308.25" y="419.15" width="3.7" height="3.7"/><rect x="311.72" y="426.25" width="3.7" height="3.7"/><rect x="315.18" y="427.05" width="3.7" height="3.7"/><rect x="318.65" y="423.75" width="3.7" height="3.7"/><rect x="322.12" y="421.15" width="3.7" height="3.7"/><rect x="325.59" y="413.25" width="3.7" height="3.7"/><rect x="329.06" y="411.25" width="3.7" height="3.7"/><rect x="332.53" y="413.25" width="3.7" height="3.7"/><rect x="336" y="419.75" width="3.7" height="3.7"/><rect x="339.47" y="416.75" width="3.7" height="3.7"/><rect x="342.94" y="407.85" width="3.7" height="3.7"/><rect x="346.41" y="406.85" width="3.7" height="3.7"/><rect x="349.88" y="407.85" width="3.7" height="3.7"/><rect x="353.34" y="410.85" width="3.7" height="3.7"/><rect x="356.81" y="424.35" width="3.7" height="3.7"/><rect x="360.28" y="425.65" width="3.7" height="3.7"/><rect x="363.75" y="414.45" width="3.7" height="3.7"/><rect x="367.22" y="415.25" width="3.7" height="3.7"/><rect x="370.69" y="411.25" width="3.7" height="3.7"/><rect x="374.16" y="425.15" width="3.7" height="3.7"/><rect x="377.63" y="426.65" width="3.7" height="3.7"/><rect x="381.1" y="433.65" width="3.7" height="3.7"/><rect x="384.56" y="431.05" width="3.7" height="3.7"/><rect x="388.03" y="427.65" width="3.7" height="3.7"/><rect x="391.5" y="417.15" width="3.7" height="3.7"/><rect x="394.97" y="428.65" width="3.7" height="3.7"/><rect x="398.44" y="425.15" width="3.7" height="3.7"/><rect x="401.91" y="425.15" width="3.7" height="3.7"/><rect x="405.38" y="425.15" width="3.7" height="3.7"/><rect x="408.85" y="405.95" width="3.7" height="3.7"/><rect x="412.32" y="408.45" width="3.7" height="3.7"/><rect x="415.79" y="406.85" width="3.7" height="3.7"/><rect x="419.25" y="409.25" width="3.7" height="3.7"/><rect x="422.72" y="405.95" width="3.7" height="3.7"/><rect x="426.19" y="402.55" width="3.7" height="3.7"/><rect x="429.66" y="403.95" width="3.7" height="3.7"/></g>
<line x1="496.1" y1="383.7" x2="496.1" y2="479.3" stroke="#888" stroke-width="1.1"/>
<line x1="495.6" y1="478.8" x2="681.4" y2="478.8" stroke="#333" stroke-width="0.9"/>
<line x1="494.5" y1="384.2" x2="496.1" y2="384.2" stroke="#888" stroke-width="0.8"/>
<text x="493.8" y="386.75" font-size="7.3" text-anchor="end" font-weight="normal" fill="#333">30</text>
<line x1="494.5" y1="407.85" x2="496.1" y2="407.85" stroke="#888" stroke-width="0.8"/>
<text x="493.8" y="410.41" font-size="7.3" text-anchor="end" font-weight="normal" fill="#333">25</text>
<line x1="494.5" y1="431.5" x2="496.1" y2="431.5" stroke="#888" stroke-width="0.8"/>
<text x="493.8" y="434.06" font-size="7.3" text-anchor="end" font-weight="normal" fill="#333">20</text>
<line x1="494.5" y1="455.15" x2="496.1" y2="455.15" stroke="#888" stroke-width="0.8"/>
<text x="493.8" y="457.7" font-size="7.3" text-anchor="end" font-weight="normal" fill="#333">15</text>
<line x1="494.5" y1="478.8" x2="496.1" y2="478.8" stroke="#888" stroke-width="0.8"/>
<text x="493.8" y="481.36" font-size="7.3" text-anchor="end" font-weight="normal" fill="#333">10</text>
<line x1="496.1" y1="478.8" x2="496.1" y2="480.4" stroke="#888" stroke-width="0.8"/>
<text x="496.1" y="487.7" font-size="7.3" text-anchor="middle" font-weight="normal" fill="#333">0</text>
<line x1="519.2" y1="478.8" x2="519.2" y2="480.4" stroke="#888" stroke-width="0.8"/>
<text x="519.2" y="487.7" font-size="7.3" text-anchor="middle" font-weight="normal" fill="#333">6</text>
<line x1="542.3" y1="478.8" x2="542.3" y2="480.4" stroke="#888" stroke-width="0.8"/>
<text x="542.3" y="487.7" font-size="7.3" text-anchor="middle" font-weight="normal" fill="#333">12</text>
<line x1="565.4" y1="478.8" x2="565.4" y2="480.4" stroke="#888" stroke-width="0.8"/>
<text x="565.4" y="487.7" font-size="7.3" text-anchor="middle" font-weight="normal" fill="#333">18</text>
<line x1="588.5" y1="478.8" x2="588.5" y2="480.4" stroke="#888" stroke-width="0.8"/>
<text x="588.5" y="487.7" font-size="7.3" text-anchor="middle" font-weight="normal" fill="#333">24</text>
<line x1="611.6" y1="478.8" x2="611.6" y2="480.4" stroke="#888" stroke-width="0.8"/>
<text x="611.6" y="487.7" font-size="7.3" text-anchor="middle" font-weight="normal" fill="#333">30</text>
<line x1="634.7" y1="478.8" x2="634.7" y2="480.4" stroke="#888" stroke-width="0.8"/>
<text x="634.7" y="487.7" font-size="7.3" text-anchor="middle" font-weight="normal" fill="#333">36</text>
<line x1="657.8" y1="478.8" x2="657.8" y2="480.4" stroke="#888" stroke-width="0.8"/>
<text x="657.8" y="487.7" font-size="7.3" text-anchor="middle" font-weight="normal" fill="#333">42</text>
<line x1="680.9" y1="478.8" x2="680.9" y2="480.4" stroke="#888" stroke-width="0.8"/>
<text x="680.9" y="487.7" font-size="7.3" text-anchor="middle" font-weight="normal" fill="#333">48</text>
<rect x="496.1" y="475.1" width="23.1" height="3.7" fill="#000"/>
<rect x="565.4" y="475.1" width="46.2" height="3.7" fill="#000"/>
<rect x="657.8" y="475.1" width="23.1" height="3.7" fill="#000"/>
<polyline points="496.1,428 499.95,448.6 503.8,448.2 507.65,442 511.5,456.9 515.35,446.9 519.2,447.6 523.05,423.7 526.9,434.5 530.75,453.2 534.6,440.3 538.45,453.8 542.3,451.1 546.15,447.6 550,448.2 553.85,453.2 557.7,450.7 561.55,448.2 565.4,425.7 569.25,448.2 573.1,429.5 576.95,443.4 580.8,444.4 584.65,424.1 588.5,446.5 592.35,429.9 596.2,450.7 600.05,449.6 603.9,446.5 607.75,439.3 611.6,453.8 615.45,432 619.3,451.7 623.15,460.7 627,436.1 630.85,449 634.7,446.9 638.55,442.8 642.4,452.3 646.25,443.4 650.1,454.8 653.95,443.4 657.8,430.9 661.65,442.4 665.5,436.5 669.35,435.7 673.2,440.7 677.05,434.5 680.9,437.2" fill="none" stroke="#222" stroke-width="0.55"/>
<path d="M496.1 422.56V433.44M494.9 422.56H497.3M494.9 433.44H497.3M499.95 441.18V456.03M498.75 441.18H501.15M498.75 456.03H501.15M503.8 444.24V452.16M502.6 444.24H505M502.6 452.16H505M507.65 436.06V447.94M506.45 436.06H508.85M506.45 447.94H508.85M511.5 454.42V459.38M510.3 454.42H512.7M510.3 459.38H512.7M515.35 442.44V451.35M514.15 442.44H516.55M514.15 451.35H516.55M519.2 441.17V454.04M518 441.17H520.4M518 454.04H520.4M523.05 420.73V426.67M521.85 420.73H524.25M521.85 426.67H524.25M526.9 429.55V439.45M525.7 429.55H528.1M525.7 439.45H528.1M530.75 446.27V460.13M529.55 446.27H531.95M529.55 460.13H531.95M534.6 436.84V443.76M533.4 436.84H535.8M533.4 443.76H535.8M538.45 448.36V459.25M537.25 448.36H539.65M537.25 459.25H539.65M542.3 443.68V458.53M541.1 443.68H543.5M541.1 458.53H543.5M546.15 443.64V451.56M544.95 443.64H547.35M544.95 451.56H547.35M550 442.26V454.14M548.8 442.26H551.2M548.8 454.14H551.2M553.85 450.72V455.68M552.65 450.72H555.05M552.65 455.68H555.05M557.7 446.25V455.15M556.5 446.25H558.9M556.5 455.15H558.9M561.55 441.76V454.63M560.35 441.76H562.75M560.35 454.63H562.75M565.4 422.73V428.67M564.2 422.73H566.6M564.2 428.67H566.6M569.25 443.25V453.15M568.05 443.25H570.45M568.05 453.15H570.45M573.1 422.57V436.43M571.9 422.57H574.3M571.9 436.43H574.3M576.95 439.94V446.86M575.75 439.94H578.15M575.75 446.86H578.15M580.8 438.95V449.84M579.6 438.95H582M579.6 449.84H582M584.65 416.68V431.53M583.45 416.68H585.85M583.45 431.53H585.85M588.5 442.54V450.46M587.3 442.54H589.7M587.3 450.46H589.7M592.35 423.96V435.84M591.15 423.96H593.55M591.15 435.84H593.55M596.2 448.22V453.18M595 448.22H597.4M595 453.18H597.4M600.05 445.15V454.06M598.85 445.15H601.25M598.85 454.06H601.25M603.9 440.06V452.94M602.7 440.06H605.1M602.7 452.94H605.1M607.75 436.33V442.27M606.55 436.33H608.95M606.55 442.27H608.95M611.6 448.85V458.75M610.4 448.85H612.8M610.4 458.75H612.8M615.45 425.07V438.93M614.25 425.07H616.65M614.25 438.93H616.65M619.3 448.24V455.16M618.1 448.24H620.5M618.1 455.16H620.5M623.15 455.25V466.14M621.95 455.25H624.35M621.95 466.14H624.35M627 428.68V443.53M625.8 428.68H628.2M625.8 443.53H628.2M630.85 445.04V452.96M629.65 445.04H632.05M629.65 452.96H632.05M634.7 440.96V452.84M633.5 440.96H635.9M633.5 452.84H635.9M638.55 440.32V445.28M637.35 440.32H639.75M637.35 445.28H639.75M642.4 447.85V456.75M641.2 447.85H643.6M641.2 456.75H643.6M646.25 436.96V449.83M645.05 436.96H647.45M645.05 449.83H647.45M650.1 451.83V457.77M648.9 451.83H651.3M648.9 457.77H651.3M653.95 438.45V448.35M652.75 438.45H655.15M652.75 448.35H655.15M657.8 423.97V437.83M656.6 423.97H659M656.6 437.83H659M661.65 438.94V445.86M660.45 438.94H662.85M660.45 445.86H662.85M665.5 431.06V441.94M664.3 431.06H666.7M664.3 441.94H666.7M669.35 428.27V443.12M668.15 428.27H670.55M668.15 443.12H670.55M673.2 436.74V444.66M672 436.74H674.4M672 444.66H674.4M677.05 428.56V440.44M675.85 428.56H678.25M675.85 440.44H678.25M680.9 434.72V439.68M679.7 434.72H682.1M679.7 439.68H682.1" stroke="#333" stroke-width="0.5" fill="none"/>
<g fill="#ff0d0d" stroke="#200" stroke-width="0.7"><rect x="494.25" y="426.15" width="3.7" height="3.7"/><rect x="498.1" y="446.75" width="3.7" height="3.7"/><rect x="501.95" y="446.35" width="3.7" height="3.7"/><rect x="505.8" y="440.15" width="3.7" height="3.7"/><rect x="509.65" y="455.05" width="3.7" height="3.7"/><rect x="513.5" y="445.05" width="3.7" height="3.7"/><rect x="517.35" y="445.75" width="3.7" height="3.7"/><rect x="521.2" y="421.85" width="3.7" height="3.7"/><rect x="525.05" y="432.65" width="3.7" height="3.7"/><rect x="528.9" y="451.35" width="3.7" height="3.7"/><rect x="532.75" y="438.45" width="3.7" height="3.7"/><rect x="536.6" y="451.95" width="3.7" height="3.7"/><rect x="540.45" y="449.25" width="3.7" height="3.7"/><rect x="544.3" y="445.75" width="3.7" height="3.7"/><rect x="548.15" y="446.35" width="3.7" height="3.7"/><rect x="552" y="451.35" width="3.7" height="3.7"/><rect x="555.85" y="448.85" width="3.7" height="3.7"/><rect x="559.7" y="446.35" width="3.7" height="3.7"/><rect x="563.55" y="423.85" width="3.7" height="3.7"/><rect x="567.4" y="446.35" width="3.7" height="3.7"/><rect x="571.25" y="427.65" width="3.7" height="3.7"/><rect x="575.1" y="441.55" width="3.7" height="3.7"/><rect x="578.95" y="442.55" width="3.7" height="3.7"/><rect x="582.8" y="422.25" width="3.7" height="3.7"/><rect x="586.65" y="444.65" width="3.7" height="3.7"/><rect x="590.5" y="428.05" width="3.7" height="3.7"/><rect x="594.35" y="448.85" width="3.7" height="3.7"/><rect x="598.2" y="447.75" width="3.7" height="3.7"/><rect x="602.05" y="444.65" width="3.7" height="3.7"/><rect x="605.9" y="437.45" width="3.7" height="3.7"/><rect x="609.75" y="451.95" width="3.7" height="3.7"/><rect x="613.6" y="430.15" width="3.7" height="3.7"/><rect x="617.45" y="449.85" width="3.7" height="3.7"/><rect x="621.3" y="458.85" width="3.7" height="3.7"/><rect x="625.15" y="434.25" width="3.7" height="3.7"/><rect x="629" y="447.15" width="3.7" height="3.7"/><rect x="632.85" y="445.05" width="3.7" height="3.7"/><rect x="636.7" y="440.95" width="3.7" height="3.7"/><rect x="640.55" y="450.45" width="3.7" height="3.7"/><rect x="644.4" y="441.55" width="3.7" height="3.7"/><rect x="648.25" y="452.95" width="3.7" height="3.7"/><rect x="652.1" y="441.55" width="3.7" height="3.7"/><rect x="655.95" y="429.05" width="3.7" height="3.7"/><rect x="659.8" y="440.55" width="3.7" height="3.7"/><rect x="663.65" y="434.65" width="3.7" height="3.7"/><rect x="667.5" y="433.85" width="3.7" height="3.7"/><rect x="671.35" y="438.85" width="3.7" height="3.7"/><rect x="675.2" y="432.65" width="3.7" height="3.7"/><rect x="679.05" y="435.35" width="3.7" height="3.7"/></g>
<polyline points="496.1,428.2 499.95,447.6 503.8,435.7 507.65,435.7 511.5,447.6 515.35,448.6 519.2,463.2 523.05,451.1 526.9,442.4 530.75,464.2 534.6,465.2 538.45,460 542.3,459 546.15,430.3 550,437.8 553.85,439.3 557.7,433.6 561.55,430.3 565.4,418.5 569.25,417 573.1,419.1 576.95,428.9 580.8,423.2 584.65,411.6 588.5,410.1 592.35,411.6 596.2,415.8 600.05,433.6 603.9,436.5 607.75,420.5 611.6,421.6 615.45,416.4 619.3,436.1 623.15,438.2 627,448.6 630.85,447.6 634.7,442.4 638.55,425.3 642.4,441.3 646.25,438.6 650.1,436.1 653.95,435.7 657.8,408.1 661.65,412.2 665.5,410.1 669.35,412.8 673.2,409.5 677.05,404.5 680.9,406.6" fill="none" stroke="#222" stroke-width="0.55"/>
<path d="M496.1 425.72V430.68M494.9 425.72H497.3M494.9 430.68H497.3M499.95 443.15V452.06M498.75 443.15H501.15M498.75 452.06H501.15M503.8 429.26V442.13M502.6 429.26H505M502.6 442.13H505M507.65 432.73V438.67M506.45 432.73H508.85M506.45 438.67H508.85M511.5 442.65V452.55M510.3 442.65H512.7M510.3 452.55H512.7M515.35 441.67V455.53M514.15 441.67H516.55M514.15 455.53H516.55M519.2 459.74V466.66M518 459.74H520.4M518 466.66H520.4M523.05 445.66V456.55M521.85 445.66H524.25M521.85 456.55H524.25M526.9 434.97V449.82M525.7 434.97H528.1M525.7 449.82H528.1M530.75 460.24V468.16M529.55 460.24H531.95M529.55 468.16H531.95M534.6 459.26V471.14M533.4 459.26H535.8M533.4 471.14H535.8M538.45 457.52V462.48M537.25 457.52H539.65M537.25 462.48H539.65M542.3 454.55V463.45M541.1 454.55H543.5M541.1 463.45H543.5M546.15 423.87V436.74M544.95 423.87H547.35M544.95 436.74H547.35M550 434.83V440.77M548.8 434.83H551.2M548.8 440.77H551.2M553.85 434.35V444.25M552.65 434.35H555.05M552.65 444.25H555.05M557.7 426.67V440.53M556.5 426.67H558.9M556.5 440.53H558.9M561.55 426.84V433.76M560.35 426.84H562.75M560.35 433.76H562.75M565.4 413.06V423.94M564.2 413.06H566.6M564.2 423.94H566.6M569.25 409.57V424.43M568.05 409.57H570.45M568.05 424.43H570.45M573.1 415.14V423.06M571.9 415.14H574.3M571.9 423.06H574.3M576.95 422.96V434.84M575.75 422.96H578.15M575.75 434.84H578.15M580.8 420.72V425.68M579.6 420.72H582M579.6 425.68H582M584.65 407.15V416.06M583.45 407.15H585.85M583.45 416.06H585.85M588.5 403.67V416.54M587.3 403.67H589.7M587.3 416.54H589.7M592.35 408.63V414.57M591.15 408.63H593.55M591.15 414.57H593.55M596.2 410.85V420.75M595 410.85H597.4M595 420.75H597.4M600.05 426.67V440.53M598.85 426.67H601.25M598.85 440.53H601.25M603.9 433.04V439.96M602.7 433.04H605.1M602.7 439.96H605.1M607.75 415.06V425.94M606.55 415.06H608.95M606.55 425.94H608.95M611.6 414.18V429.03M610.4 414.18H612.8M610.4 429.03H612.8M615.45 412.44V420.36M614.25 412.44H616.65M614.25 420.36H616.65M619.3 430.16V442.04M618.1 430.16H620.5M618.1 442.04H620.5M623.15 435.72V440.68M621.95 435.72H624.35M621.95 440.68H624.35M627 444.15V453.06M625.8 444.15H628.2M625.8 453.06H628.2M630.85 441.17V454.04M629.65 441.17H632.05M629.65 454.04H632.05M634.7 439.43V445.37M633.5 439.43H635.9M633.5 445.37H635.9M638.55 420.35V430.25M637.35 420.35H639.75M637.35 430.25H639.75M642.4 434.37V448.23M641.2 434.37H643.6M641.2 448.23H643.6M646.25 435.14V442.06M645.05 435.14H647.45M645.05 442.06H647.45M650.1 430.66V441.55M648.9 430.66H651.3M648.9 441.55H651.3M653.95 428.27V443.12M652.75 428.27H655.15M652.75 443.12H655.15M657.8 404.14V412.06M656.6 404.14H659M656.6 412.06H659M661.65 406.26V418.14M660.45 406.26H662.85M660.45 418.14H662.85M665.5 407.62V412.58M664.3 407.62H666.7M664.3 412.58H666.7M669.35 408.35V417.25M668.15 408.35H670.55M668.15 417.25H670.55M673.2 403.06V415.94M672 403.06H674.4M672 415.94H674.4M677.05 401.53V407.47M675.85 401.53H678.25M675.85 407.47H678.25M680.9 401.65V411.55M679.7 401.65H682.1M679.7 411.55H682.1" stroke="#333" stroke-width="0.5" fill="none"/>
<g fill="#000" stroke="#000" stroke-width="0.7"><rect x="494.25" y="426.35" width="3.7" height="3.7"/><rect x="498.1" y="445.75" width="3.7" height="3.7"/><rect x="501.95" y="433.85" width="3.7" height="3.7"/><rect x="505.8" y="433.85" width="3.7" height="3.7"/><rect x="509.65" y="445.75" width="3.7" height="3.7"/><rect x="513.5" y="446.75" width="3.7" height="3.7"/><rect x="517.35" y="461.35" width="3.7" height="3.7"/><rect x="521.2" y="449.25" width="3.7" height="3.7"/><rect x="525.05" y="440.55" width="3.7" height="3.7"/><rect x="528.9" y="462.35" width="3.7" height="3.7"/><rect x="532.75" y="463.35" width="3.7" height="3.7"/><rect x="536.6" y="458.15" width="3.7" height="3.7"/><rect x="540.45" y="457.15" width="3.7" height="3.7"/><rect x="544.3" y="428.45" width="3.7" height="3.7"/><rect x="548.15" y="435.95" width="3.7" height="3.7"/><rect x="552" y="437.45" width="3.7" height="3.7"/><rect x="555.85" y="431.75" width="3.7" height="3.7"/><rect x="559.7" y="428.45" width="3.7" height="3.7"/><rect x="563.55" y="416.65" width="3.7" height="3.7"/><rect x="567.4" y="415.15" width="3.7" height="3.7"/><rect x="571.25" y="417.25" width="3.7" height="3.7"/><rect x="575.1" y="427.05" width="3.7" height="3.7"/><rect x="578.95" y="421.35" width="3.7" height="3.7"/><rect x="582.8" y="409.75" width="3.7" height="3.7"/><rect x="586.65" y="408.25" width="3.7" height="3.7"/><rect x="590.5" y="409.75" width="3.7" height="3.7"/><rect x="594.35" y="413.95" width="3.7" height="3.7"/><rect x="598.2" y="431.75" width="3.7" height="3.7"/><rect x="602.05" y="434.65" width="3.7" height="3.7"/><rect x="605.9" y="418.65" width="3.7" height="3.7"/><rect x="609.75" y="419.75" width="3.7" height="3.7"/><rect x="613.6" y="414.55" width="3.7" height="3.7"/><rect x="617.45" y="434.25" width="3.7" height="3.7"/><rect x="621.3" y="436.35" width="3.7" height="3.7"/><rect x="625.15" y="446.75" width="3.7" height="3.7"/><rect x="629" y="445.75" width="3.7" height="3.7"/><rect x="632.85" y="440.55" width="3.7" height="3.7"/><rect x="636.7" y="423.45" width="3.7" height="3.7"/><rect x="640.55" y="439.45" width="3.7" height="3.7"/><rect x="644.4" y="436.75" width="3.7" height="3.7"/><rect x="648.25" y="434.25" width="3.7" height="3.7"/><rect x="652.1" y="433.85" width="3.7" height="3.7"/><rect x="655.95" y="406.25" width="3.7" height="3.7"/><rect x="659.8" y="410.35" width="3.7" height="3.7"/><rect x="663.65" y="408.25" width="3.7" height="3.7"/><rect x="667.5" y="410.95" width="3.7" height="3.7"/><rect x="671.35" y="407.65" width="3.7" height="3.7"/><rect x="675.2" y="402.65" width="3.7" height="3.7"/><rect x="679.05" y="404.75" width="3.7" height="3.7"/></g>
<rect x="128.3" y="17.4" width="8.6" height="65" fill="#b0b0b0" stroke="#222" stroke-width="0.5"/>
<rect x="142" y="27.2" width="8.5" height="55.2" fill="#ff9595" stroke="#222" stroke-width="0.5"/>
<rect x="164.3" y="23.6" width="9.2" height="58.8" fill="#b0b0b0" stroke="#222" stroke-width="0.5"/>
<rect x="178.2" y="37.4" width="8.5" height="45" fill="#ff9595" stroke="#222" stroke-width="0.5"/>
<line x1="123.2" y1="9.8" x2="123.2" y2="82.8" stroke="#3a3a3a" stroke-width="0.9"/>
<line x1="122.8" y1="82.4" x2="191.4" y2="82.4" stroke="#3a3a3a" stroke-width="0.9"/>
<line x1="121.6" y1="82.4" x2="123.2" y2="82.4" stroke="#3a3a3a" stroke-width="0.8"/>
<text x="120.7" y="85.23" font-size="8.2" text-anchor="end" font-weight="normal" fill="#111">0</text>
<line x1="121.6" y1="58.3" x2="123.2" y2="58.3" stroke="#3a3a3a" stroke-width="0.8"/>
<text x="120.7" y="61.13" font-size="8.2" text-anchor="end" font-weight="normal" fill="#111">1000</text>
<line x1="121.6" y1="34.3" x2="123.2" y2="34.3" stroke="#3a3a3a" stroke-width="0.8"/>
<text x="120.7" y="37.13" font-size="8.2" text-anchor="end" font-weight="normal" fill="#111">2000</text>
<line x1="121.6" y1="10.2" x2="123.2" y2="10.2" stroke="#3a3a3a" stroke-width="0.8"/>
<text x="120.7" y="13.03" font-size="8.2" text-anchor="end" font-weight="normal" fill="#111">3000</text>
<line x1="139.5" y1="82.4" x2="139.5" y2="84" stroke="#3a3a3a" stroke-width="0.8"/>
<text x="139.5" y="92.2" font-size="8.3" text-anchor="middle" font-weight="normal" fill="#111">Dark</text>
<line x1="175.3" y1="82.4" x2="175.3" y2="84" stroke="#3a3a3a" stroke-width="0.8"/>
<text x="175.3" y="92.2" font-size="8.3" text-anchor="middle" font-weight="normal" fill="#111">Light</text>
<line x1="132" y1="10.4" x2="147.8" y2="10.4" stroke="#999" stroke-width="0.9"/>
<line x1="164.1" y1="15.3" x2="181.4" y2="15.3" stroke="#555" stroke-width="0.9"/>
<path d="M140.4 1.15L140.4 7.65M137.59 2.78L143.21 6.03M137.59 6.03L143.21 2.78" stroke="#000" stroke-width="1.15" fill="none"/>
<g fill="#000"><circle cx="140.4" cy="1.15" r="0.95"/><circle cx="140.4" cy="7.65" r="0.95"/><circle cx="137.59" cy="2.78" r="0.95"/><circle cx="143.21" cy="6.03" r="0.95"/><circle cx="137.59" cy="6.03" r="0.95"/><circle cx="143.21" cy="2.78" r="0.95"/><circle cx="140.4" cy="4.4" r="1.5"/></g>
<path d="M173 5.15L173 11.65M170.19 6.78L175.81 10.03M170.19 10.03L175.81 6.78" stroke="#000" stroke-width="1.15" fill="none"/>
<g fill="#000"><circle cx="173" cy="5.15" r="0.95"/><circle cx="173" cy="11.65" r="0.95"/><circle cx="170.19" cy="6.78" r="0.95"/><circle cx="175.81" cy="10.03" r="0.95"/><circle cx="170.19" cy="10.03" r="0.95"/><circle cx="175.81" cy="6.78" r="0.95"/><circle cx="173" cy="8.4" r="1.5"/></g>
<rect x="128.3" y="13.55" width="3.8" height="2.9" rx="0.35" fill="#fff" stroke="#111" stroke-width="0.7"/>
<rect x="130.1" y="16.65" width="3.8" height="2.9" rx="0.35" fill="#fff" stroke="#111" stroke-width="0.7"/>
<rect x="133" y="16.15" width="3.8" height="2.9" rx="0.35" fill="#fff" stroke="#111" stroke-width="0.7"/>
<rect x="141.55" y="26.05" width="3.8" height="2.9" rx="0.35" fill="#fff" stroke="#111" stroke-width="0.7"/>
<rect x="145.75" y="23.25" width="3.8" height="2.9" rx="0.35" fill="#fff" stroke="#111" stroke-width="0.7"/>
<rect x="146.35" y="26.55" width="3.8" height="2.9" rx="0.35" fill="#fff" stroke="#111" stroke-width="0.7"/>
<rect x="165" y="19.15" width="3.8" height="2.9" rx="0.35" fill="#fff" stroke="#111" stroke-width="0.7"/>
<rect x="165.2" y="21.95" width="3.8" height="2.9" rx="0.35" fill="#fff" stroke="#111" stroke-width="0.7"/>
<rect x="168.6" y="23.35" width="3.8" height="2.9" rx="0.35" fill="#fff" stroke="#111" stroke-width="0.7"/>
<rect x="179.05" y="32.75" width="3.8" height="2.9" rx="0.35" fill="#fff" stroke="#111" stroke-width="0.7"/>
<rect x="180.35" y="35.55" width="3.8" height="2.9" rx="0.35" fill="#fff" stroke="#111" stroke-width="0.7"/>
<rect x="183.35" y="34.85" width="3.8" height="2.9" rx="0.35" fill="#fff" stroke="#111" stroke-width="0.7"/>
<rect x="355.6" y="28.3" width="8.4" height="53.9" fill="#b0b0b0" stroke="#222" stroke-width="0.5"/>
<rect x="369.1" y="30.7" width="8.3" height="51.5" fill="#ff9595" stroke="#222" stroke-width="0.5"/>
<rect x="391.7" y="30.7" width="8.5" height="51.5" fill="#b0b0b0" stroke="#222" stroke-width="0.5"/>
<rect x="405.1" y="37.6" width="8.4" height="44.6" fill="#ff9595" stroke="#222" stroke-width="0.5"/>
<line x1="350.7" y1="9.5" x2="350.7" y2="82.6" stroke="#3a3a3a" stroke-width="0.9"/>
<line x1="350.3" y1="82.2" x2="418" y2="82.2" stroke="#3a3a3a" stroke-width="0.9"/>
<line x1="349.1" y1="82.2" x2="350.7" y2="82.2" stroke="#3a3a3a" stroke-width="0.8"/>
<text x="348.2" y="85.03" font-size="8.2" text-anchor="end" font-weight="normal" fill="#111">0</text>
<line x1="349.1" y1="64.3" x2="350.7" y2="64.3" stroke="#3a3a3a" stroke-width="0.8"/>
<text x="348.2" y="67.13" font-size="8.2" text-anchor="end" font-weight="normal" fill="#111">1000</text>
<line x1="349.1" y1="46.4" x2="350.7" y2="46.4" stroke="#3a3a3a" stroke-width="0.8"/>
<text x="348.2" y="49.23" font-size="8.2" text-anchor="end" font-weight="normal" fill="#111">2000</text>
<line x1="349.1" y1="28.3" x2="350.7" y2="28.3" stroke="#3a3a3a" stroke-width="0.8"/>
<text x="348.2" y="31.13" font-size="8.2" text-anchor="end" font-weight="normal" fill="#111">3000</text>
<line x1="349.1" y1="9.9" x2="350.7" y2="9.9" stroke="#3a3a3a" stroke-width="0.8"/>
<text x="348.2" y="12.73" font-size="8.2" text-anchor="end" font-weight="normal" fill="#111">4000</text>
<line x1="366.4" y1="82.2" x2="366.4" y2="83.8" stroke="#3a3a3a" stroke-width="0.8"/>
<text x="366.4" y="92" font-size="8.3" text-anchor="middle" font-weight="normal" fill="#111">Dark</text>
<line x1="402.5" y1="82.2" x2="402.5" y2="83.8" stroke="#3a3a3a" stroke-width="0.8"/>
<text x="402.5" y="92" font-size="8.3" text-anchor="middle" font-weight="normal" fill="#111">Light</text>
<line x1="397.2" y1="18.5" x2="413.3" y2="18.5" stroke="#444" stroke-width="0.9"/>
<path d="M405.4 8.65L405.4 15.15M402.59 10.28L408.21 13.53M402.59 13.53L408.21 10.28" stroke="#000" stroke-width="1.15" fill="none"/>
<g fill="#000"><circle cx="405.4" cy="8.65" r="0.95"/><circle cx="405.4" cy="15.15" r="0.95"/><circle cx="402.59" cy="10.28" r="0.95"/><circle cx="408.21" cy="13.53" r="0.95"/><circle cx="402.59" cy="13.53" r="0.95"/><circle cx="408.21" cy="10.28" r="0.95"/><circle cx="405.4" cy="11.9" r="1.5"/></g>
<rect x="355.5" y="24.45" width="3.8" height="2.9" rx="0.35" fill="#fff" stroke="#111" stroke-width="0.7"/>
<rect x="357.3" y="27.55" width="3.8" height="2.9" rx="0.35" fill="#fff" stroke="#111" stroke-width="0.7"/>
<rect x="360.2" y="27.05" width="3.8" height="2.9" rx="0.35" fill="#fff" stroke="#111" stroke-width="0.7"/>
<rect x="368.55" y="29.55" width="3.8" height="2.9" rx="0.35" fill="#fff" stroke="#111" stroke-width="0.7"/>
<rect x="372.75" y="26.75" width="3.8" height="2.9" rx="0.35" fill="#fff" stroke="#111" stroke-width="0.7"/>
<rect x="373.35" y="30.05" width="3.8" height="2.9" rx="0.35" fill="#fff" stroke="#111" stroke-width="0.7"/>
<rect x="392.05" y="26.25" width="3.8" height="2.9" rx="0.35" fill="#fff" stroke="#111" stroke-width="0.7"/>
<rect x="392.25" y="29.05" width="3.8" height="2.9" rx="0.35" fill="#fff" stroke="#111" stroke-width="0.7"/>
<rect x="395.65" y="30.45" width="3.8" height="2.9" rx="0.35" fill="#fff" stroke="#111" stroke-width="0.7"/>
<rect x="405.9" y="32.95" width="3.8" height="2.9" rx="0.35" fill="#fff" stroke="#111" stroke-width="0.7"/>
<rect x="407.2" y="35.75" width="3.8" height="2.9" rx="0.35" fill="#fff" stroke="#111" stroke-width="0.7"/>
<rect x="410.2" y="35.05" width="3.8" height="2.9" rx="0.35" fill="#fff" stroke="#111" stroke-width="0.7"/>
<rect x="602.2" y="29.3" width="8.9" height="53.9" fill="#b0b0b0" stroke="#222" stroke-width="0.5"/>
<rect x="616" y="34.2" width="9" height="49" fill="#ff9595" stroke="#222" stroke-width="0.5"/>
<rect x="638.2" y="32.9" width="8.9" height="50.3" fill="#b0b0b0" stroke="#222" stroke-width="0.5"/>
<rect x="652.3" y="39.8" width="8.7" height="43.4" fill="#ff9595" stroke="#222" stroke-width="0.5"/>
<line x1="597" y1="10.9" x2="597" y2="83.6" stroke="#3a3a3a" stroke-width="0.9"/>
<line x1="596.6" y1="83.2" x2="665.5" y2="83.2" stroke="#3a3a3a" stroke-width="0.9"/>
<line x1="595.4" y1="83.2" x2="597" y2="83.2" stroke="#3a3a3a" stroke-width="0.8"/>
<text x="594.5" y="86.03" font-size="8.2" text-anchor="end" font-weight="normal" fill="#111">0</text>
<line x1="595.4" y1="65.3" x2="597" y2="65.3" stroke="#3a3a3a" stroke-width="0.8"/>
<text x="594.5" y="68.13" font-size="8.2" text-anchor="end" font-weight="normal" fill="#111">5</text>
<line x1="595.4" y1="47.5" x2="597" y2="47.5" stroke="#3a3a3a" stroke-width="0.8"/>
<text x="594.5" y="50.33" font-size="8.2" text-anchor="end" font-weight="normal" fill="#111">10</text>
<line x1="595.4" y1="29.7" x2="597" y2="29.7" stroke="#3a3a3a" stroke-width="0.8"/>
<text x="594.5" y="32.53" font-size="8.2" text-anchor="end" font-weight="normal" fill="#111">15</text>
<line x1="595.4" y1="11.3" x2="597" y2="11.3" stroke="#3a3a3a" stroke-width="0.8"/>
<text x="594.5" y="14.13" font-size="8.2" text-anchor="end" font-weight="normal" fill="#111">20</text>
<line x1="613.5" y1="83.2" x2="613.5" y2="84.8" stroke="#3a3a3a" stroke-width="0.8"/>
<text x="613.5" y="93" font-size="8.3" text-anchor="middle" font-weight="normal" fill="#111">Dark</text>
<line x1="649.6" y1="83.2" x2="649.6" y2="84.8" stroke="#3a3a3a" stroke-width="0.8"/>
<text x="649.6" y="93" font-size="8.3" text-anchor="middle" font-weight="normal" fill="#111">Light</text>
<line x1="642.9" y1="20.3" x2="658.9" y2="20.3" stroke="#666" stroke-width="0.9"/>
<path d="M650.9 8.65L650.9 15.15M648.09 10.28L653.71 13.53M648.09 13.53L653.71 10.28" stroke="#000" stroke-width="1.15" fill="none"/>
<g fill="#000"><circle cx="650.9" cy="8.65" r="0.95"/><circle cx="650.9" cy="15.15" r="0.95"/><circle cx="648.09" cy="10.28" r="0.95"/><circle cx="653.71" cy="13.53" r="0.95"/><circle cx="648.09" cy="13.53" r="0.95"/><circle cx="653.71" cy="10.28" r="0.95"/><circle cx="650.9" cy="11.9" r="1.5"/></g>
<rect x="602.35" y="25.45" width="3.8" height="2.9" rx="0.35" fill="#fff" stroke="#111" stroke-width="0.7"/>
<rect x="604.15" y="28.55" width="3.8" height="2.9" rx="0.35" fill="#fff" stroke="#111" stroke-width="0.7"/>
<rect x="607.05" y="28.05" width="3.8" height="2.9" rx="0.35" fill="#fff" stroke="#111" stroke-width="0.7"/>
<rect x="615.8" y="33.05" width="3.8" height="2.9" rx="0.35" fill="#fff" stroke="#111" stroke-width="0.7"/>
<rect x="620" y="30.25" width="3.8" height="2.9" rx="0.35" fill="#fff" stroke="#111" stroke-width="0.7"/>
<rect x="620.6" y="33.55" width="3.8" height="2.9" rx="0.35" fill="#fff" stroke="#111" stroke-width="0.7"/>
<rect x="638.75" y="28.45" width="3.8" height="2.9" rx="0.35" fill="#fff" stroke="#111" stroke-width="0.7"/>
<rect x="638.95" y="31.25" width="3.8" height="2.9" rx="0.35" fill="#fff" stroke="#111" stroke-width="0.7"/>
<rect x="642.35" y="32.65" width="3.8" height="2.9" rx="0.35" fill="#fff" stroke="#111" stroke-width="0.7"/>
<rect x="653.25" y="35.15" width="3.8" height="2.9" rx="0.35" fill="#fff" stroke="#111" stroke-width="0.7"/>
<rect x="654.55" y="37.95" width="3.8" height="2.9" rx="0.35" fill="#fff" stroke="#111" stroke-width="0.7"/>
<rect x="657.55" y="37.25" width="3.8" height="2.9" rx="0.35" fill="#fff" stroke="#111" stroke-width="0.7"/>
<rect x="133.1" y="328.7" width="8.7" height="56.4" fill="#000" stroke="#222" stroke-width="0.5"/>
<rect x="146.8" y="340.6" width="8.5" height="44.5" fill="#ff2600" stroke="#222" stroke-width="0.5"/>
<rect x="168.1" y="335.2" width="8.5" height="49.9" fill="#000" stroke="#222" stroke-width="0.5"/>
<rect x="182" y="345.9" width="8.3" height="39.2" fill="#ff2600" stroke="#222" stroke-width="0.5"/>
<line x1="128.2" y1="319" x2="128.2" y2="385.5" stroke="#3a3a3a" stroke-width="0.9"/>
<line x1="127.8" y1="385.1" x2="193.9" y2="385.1" stroke="#3a3a3a" stroke-width="0.9"/>
<line x1="126.6" y1="385.1" x2="128.2" y2="385.1" stroke="#3a3a3a" stroke-width="0.8"/>
<text x="125.7" y="387.52" font-size="7" text-anchor="end" font-weight="normal" fill="#111">0</text>
<line x1="126.6" y1="371.9" x2="128.2" y2="371.9" stroke="#3a3a3a" stroke-width="0.8"/>
<text x="125.7" y="374.31" font-size="7" text-anchor="end" font-weight="normal" fill="#111">1000</text>
<line x1="126.6" y1="358.8" x2="128.2" y2="358.8" stroke="#3a3a3a" stroke-width="0.8"/>
<text x="125.7" y="361.22" font-size="7" text-anchor="end" font-weight="normal" fill="#111">2000</text>
<line x1="126.6" y1="345.6" x2="128.2" y2="345.6" stroke="#3a3a3a" stroke-width="0.8"/>
<text x="125.7" y="348.02" font-size="7" text-anchor="end" font-weight="normal" fill="#111">3000</text>
<line x1="126.6" y1="332.5" x2="128.2" y2="332.5" stroke="#3a3a3a" stroke-width="0.8"/>
<text x="125.7" y="334.92" font-size="7" text-anchor="end" font-weight="normal" fill="#111">4000</text>
<line x1="126.6" y1="319.4" x2="128.2" y2="319.4" stroke="#3a3a3a" stroke-width="0.8"/>
<text x="125.7" y="321.81" font-size="7" text-anchor="end" font-weight="normal" fill="#111">5000</text>
<line x1="143.8" y1="385.1" x2="143.8" y2="386.7" stroke="#3a3a3a" stroke-width="0.8"/>
<text x="143.8" y="395" font-size="7.2" text-anchor="middle" font-weight="normal" fill="#111">Dark</text>
<line x1="179" y1="385.1" x2="179" y2="386.7" stroke="#3a3a3a" stroke-width="0.8"/>
<text x="179" y="395" font-size="7.2" text-anchor="middle" font-weight="normal" fill="#111">Light</text>
<line x1="137.7" y1="320.3" x2="153.8" y2="320.3" stroke="#555" stroke-width="0.9"/>
<line x1="172.3" y1="325.8" x2="188.3" y2="325.8" stroke="#aaa" stroke-width="0.9"/>
<path d="M142.8 307.75L142.8 314.25M139.99 309.38L145.61 312.62M139.99 312.62L145.61 309.38" stroke="#000" stroke-width="1.15" fill="none"/>
<g fill="#000"><circle cx="142.8" cy="307.75" r="0.95"/><circle cx="142.8" cy="314.25" r="0.95"/><circle cx="139.99" cy="309.38" r="0.95"/><circle cx="145.61" cy="312.62" r="0.95"/><circle cx="139.99" cy="312.62" r="0.95"/><circle cx="145.61" cy="309.38" r="0.95"/><circle cx="142.8" cy="311" r="1.5"/></g>
<path d="M154.4 307.75L154.4 314.25M151.59 309.38L157.21 312.62M151.59 312.62L157.21 309.38" stroke="#000" stroke-width="1.15" fill="none"/>
<g fill="#000"><circle cx="154.4" cy="307.75" r="0.95"/><circle cx="154.4" cy="314.25" r="0.95"/><circle cx="151.59" cy="309.38" r="0.95"/><circle cx="157.21" cy="312.62" r="0.95"/><circle cx="151.59" cy="312.62" r="0.95"/><circle cx="157.21" cy="309.38" r="0.95"/><circle cx="154.4" cy="311" r="1.5"/></g>
<path d="M176.2 314.15L176.2 320.65M173.39 315.77L179.01 319.02M173.39 319.02L179.01 315.77" stroke="#000" stroke-width="1.15" fill="none"/>
<g fill="#000"><circle cx="176.2" cy="314.15" r="0.95"/><circle cx="176.2" cy="320.65" r="0.95"/><circle cx="173.39" cy="315.77" r="0.95"/><circle cx="179.01" cy="319.02" r="0.95"/><circle cx="173.39" cy="319.02" r="0.95"/><circle cx="179.01" cy="315.77" r="0.95"/><circle cx="176.2" cy="317.4" r="1.5"/></g>
<path d="M188 314.15L188 320.65M185.19 315.77L190.81 319.02M185.19 319.02L190.81 315.77" stroke="#000" stroke-width="1.15" fill="none"/>
<g fill="#000"><circle cx="188" cy="314.15" r="0.95"/><circle cx="188" cy="320.65" r="0.95"/><circle cx="185.19" cy="315.77" r="0.95"/><circle cx="190.81" cy="319.02" r="0.95"/><circle cx="185.19" cy="319.02" r="0.95"/><circle cx="190.81" cy="315.77" r="0.95"/><circle cx="188" cy="317.4" r="1.5"/></g>
<rect x="133.15" y="324.85" width="3.8" height="2.9" rx="0.35" fill="#fff" stroke="#111" stroke-width="0.7"/>
<rect x="134.95" y="327.95" width="3.8" height="2.9" rx="0.35" fill="#fff" stroke="#111" stroke-width="0.7"/>
<rect x="137.85" y="327.45" width="3.8" height="2.9" rx="0.35" fill="#fff" stroke="#111" stroke-width="0.7"/>
<rect x="146.35" y="339.45" width="3.8" height="2.9" rx="0.35" fill="#fff" stroke="#111" stroke-width="0.7"/>
<rect x="150.55" y="336.65" width="3.8" height="2.9" rx="0.35" fill="#fff" stroke="#111" stroke-width="0.7"/>
<rect x="151.15" y="339.95" width="3.8" height="2.9" rx="0.35" fill="#fff" stroke="#111" stroke-width="0.7"/>
<rect x="168.45" y="330.75" width="3.8" height="2.9" rx="0.35" fill="#fff" stroke="#111" stroke-width="0.7"/>
<rect x="168.65" y="333.55" width="3.8" height="2.9" rx="0.35" fill="#fff" stroke="#111" stroke-width="0.7"/>
<rect x="172.05" y="334.95" width="3.8" height="2.9" rx="0.35" fill="#fff" stroke="#111" stroke-width="0.7"/>
<rect x="182.75" y="341.25" width="3.8" height="2.9" rx="0.35" fill="#fff" stroke="#111" stroke-width="0.7"/>
<rect x="184.05" y="344.05" width="3.8" height="2.9" rx="0.35" fill="#fff" stroke="#111" stroke-width="0.7"/>
<rect x="187.05" y="343.35" width="3.8" height="2.9" rx="0.35" fill="#fff" stroke="#111" stroke-width="0.7"/>
<rect x="361.5" y="327.3" width="8.4" height="57.2" fill="#000" stroke="#222" stroke-width="0.5"/>
<rect x="374.8" y="338.6" width="8.1" height="45.9" fill="#ff2600" stroke="#222" stroke-width="0.5"/>
<rect x="396.6" y="333.6" width="8.5" height="50.9" fill="#000" stroke="#222" stroke-width="0.5"/>
<rect x="409.4" y="343.9" width="8.5" height="40.6" fill="#ff2600" stroke="#222" stroke-width="0.5"/>
<line x1="356.6" y1="318.4" x2="356.6" y2="384.9" stroke="#3a3a3a" stroke-width="0.9"/>
<line x1="356.2" y1="384.5" x2="421.9" y2="384.5" stroke="#3a3a3a" stroke-width="0.9"/>
<line x1="355" y1="384.5" x2="356.6" y2="384.5" stroke="#3a3a3a" stroke-width="0.8"/>
<text x="354.1" y="386.92" font-size="7" text-anchor="end" font-weight="normal" fill="#111">0</text>
<line x1="355" y1="371.3" x2="356.6" y2="371.3" stroke="#3a3a3a" stroke-width="0.8"/>
<text x="354.1" y="373.72" font-size="7" text-anchor="end" font-weight="normal" fill="#111">1000</text>
<line x1="355" y1="358.1" x2="356.6" y2="358.1" stroke="#3a3a3a" stroke-width="0.8"/>
<text x="354.1" y="360.52" font-size="7" text-anchor="end" font-weight="normal" fill="#111">2000</text>
<line x1="355" y1="344.9" x2="356.6" y2="344.9" stroke="#3a3a3a" stroke-width="0.8"/>
<text x="354.1" y="347.31" font-size="7" text-anchor="end" font-weight="normal" fill="#111">3000</text>
<line x1="355" y1="331.7" x2="356.6" y2="331.7" stroke="#3a3a3a" stroke-width="0.8"/>
<text x="354.1" y="334.12" font-size="7" text-anchor="end" font-weight="normal" fill="#111">4000</text>
<line x1="355" y1="318.8" x2="356.6" y2="318.8" stroke="#3a3a3a" stroke-width="0.8"/>
<text x="354.1" y="321.22" font-size="7" text-anchor="end" font-weight="normal" fill="#111">5000</text>
<line x1="372.4" y1="384.5" x2="372.4" y2="386.1" stroke="#3a3a3a" stroke-width="0.8"/>
<text x="372.4" y="394.3" font-size="7.2" text-anchor="middle" font-weight="normal" fill="#111">Dark</text>
<line x1="407" y1="384.5" x2="407" y2="386.1" stroke="#3a3a3a" stroke-width="0.8"/>
<text x="407" y="394.3" font-size="7.2" text-anchor="middle" font-weight="normal" fill="#111">Light</text>
<line x1="365.7" y1="321.3" x2="381.6" y2="321.3" stroke="#555" stroke-width="0.9"/>
<line x1="400.3" y1="327" x2="416" y2="327" stroke="#aaa" stroke-width="0.9"/>
<path d="M370.6 309.35L370.6 315.85M367.79 310.98L373.41 314.23M367.79 314.23L373.41 310.98" stroke="#000" stroke-width="1.15" fill="none"/>
<g fill="#000"><circle cx="370.6" cy="309.35" r="0.95"/><circle cx="370.6" cy="315.85" r="0.95"/><circle cx="367.79" cy="310.98" r="0.95"/><circle cx="373.41" cy="314.23" r="0.95"/><circle cx="367.79" cy="314.23" r="0.95"/><circle cx="373.41" cy="310.98" r="0.95"/><circle cx="370.6" cy="312.6" r="1.5"/></g>
<path d="M382.5 309.35L382.5 315.85M379.69 310.98L385.31 314.23M379.69 314.23L385.31 310.98" stroke="#000" stroke-width="1.15" fill="none"/>
<g fill="#000"><circle cx="382.5" cy="309.35" r="0.95"/><circle cx="382.5" cy="315.85" r="0.95"/><circle cx="379.69" cy="310.98" r="0.95"/><circle cx="385.31" cy="314.23" r="0.95"/><circle cx="379.69" cy="314.23" r="0.95"/><circle cx="385.31" cy="310.98" r="0.95"/><circle cx="382.5" cy="312.6" r="1.5"/></g>
<path d="M404.8 314.55L404.8 321.05M401.99 316.18L407.61 319.43M401.99 319.43L407.61 316.18" stroke="#000" stroke-width="1.15" fill="none"/>
<g fill="#000"><circle cx="404.8" cy="314.55" r="0.95"/><circle cx="404.8" cy="321.05" r="0.95"/><circle cx="401.99" cy="316.18" r="0.95"/><circle cx="407.61" cy="319.43" r="0.95"/><circle cx="401.99" cy="319.43" r="0.95"/><circle cx="407.61" cy="316.18" r="0.95"/><circle cx="404.8" cy="317.8" r="1.5"/></g>
<path d="M416.6 314.55L416.6 321.05M413.79 316.18L419.41 319.43M413.79 319.43L419.41 316.18" stroke="#000" stroke-width="1.15" fill="none"/>
<g fill="#000"><circle cx="416.6" cy="314.55" r="0.95"/><circle cx="416.6" cy="321.05" r="0.95"/><circle cx="413.79" cy="316.18" r="0.95"/><circle cx="419.41" cy="319.43" r="0.95"/><circle cx="413.79" cy="319.43" r="0.95"/><circle cx="419.41" cy="316.18" r="0.95"/><circle cx="416.6" cy="317.8" r="1.5"/></g>
<rect x="361.4" y="323.45" width="3.8" height="2.9" rx="0.35" fill="#fff" stroke="#111" stroke-width="0.7"/>
<rect x="363.2" y="326.55" width="3.8" height="2.9" rx="0.35" fill="#fff" stroke="#111" stroke-width="0.7"/>
<rect x="366.1" y="326.05" width="3.8" height="2.9" rx="0.35" fill="#fff" stroke="#111" stroke-width="0.7"/>
<rect x="374.15" y="337.45" width="3.8" height="2.9" rx="0.35" fill="#fff" stroke="#111" stroke-width="0.7"/>
<rect x="378.35" y="334.65" width="3.8" height="2.9" rx="0.35" fill="#fff" stroke="#111" stroke-width="0.7"/>
<rect x="378.95" y="337.95" width="3.8" height="2.9" rx="0.35" fill="#fff" stroke="#111" stroke-width="0.7"/>
<rect x="396.95" y="329.15" width="3.8" height="2.9" rx="0.35" fill="#fff" stroke="#111" stroke-width="0.7"/>
<rect x="397.15" y="331.95" width="3.8" height="2.9" rx="0.35" fill="#fff" stroke="#111" stroke-width="0.7"/>
<rect x="400.55" y="333.35" width="3.8" height="2.9" rx="0.35" fill="#fff" stroke="#111" stroke-width="0.7"/>
<rect x="410.25" y="339.25" width="3.8" height="2.9" rx="0.35" fill="#fff" stroke="#111" stroke-width="0.7"/>
<rect x="411.55" y="342.05" width="3.8" height="2.9" rx="0.35" fill="#fff" stroke="#111" stroke-width="0.7"/>
<rect x="414.55" y="341.35" width="3.8" height="2.9" rx="0.35" fill="#fff" stroke="#111" stroke-width="0.7"/>
<rect x="617.5" y="327.7" width="8.5" height="57.8" fill="#000" stroke="#222" stroke-width="0.5"/>
<rect x="630.8" y="337.6" width="8.7" height="47.9" fill="#ff2600" stroke="#222" stroke-width="0.5"/>
<rect x="652.2" y="336.6" width="8.3" height="48.9" fill="#000" stroke="#222" stroke-width="0.5"/>
<rect x="665.6" y="341.5" width="8.3" height="44" fill="#ff2600" stroke="#222" stroke-width="0.5"/>
<line x1="612.6" y1="319" x2="612.6" y2="385.9" stroke="#3a3a3a" stroke-width="0.9"/>
<line x1="612.2" y1="385.5" x2="677.9" y2="385.5" stroke="#3a3a3a" stroke-width="0.9"/>
<line x1="611" y1="385.5" x2="612.6" y2="385.5" stroke="#3a3a3a" stroke-width="0.8"/>
<text x="610.1" y="387.92" font-size="7" text-anchor="end" font-weight="normal" fill="#111">0</text>
<line x1="611" y1="372.3" x2="612.6" y2="372.3" stroke="#3a3a3a" stroke-width="0.8"/>
<text x="610.1" y="374.72" font-size="7" text-anchor="end" font-weight="normal" fill="#111">5</text>
<line x1="611" y1="359.1" x2="612.6" y2="359.1" stroke="#3a3a3a" stroke-width="0.8"/>
<text x="610.1" y="361.52" font-size="7" text-anchor="end" font-weight="normal" fill="#111">10</text>
<line x1="611" y1="345.9" x2="612.6" y2="345.9" stroke="#3a3a3a" stroke-width="0.8"/>
<text x="610.1" y="348.31" font-size="7" text-anchor="end" font-weight="normal" fill="#111">15</text>
<line x1="611" y1="332.7" x2="612.6" y2="332.7" stroke="#3a3a3a" stroke-width="0.8"/>
<text x="610.1" y="335.12" font-size="7" text-anchor="end" font-weight="normal" fill="#111">20</text>
<line x1="611" y1="319.4" x2="612.6" y2="319.4" stroke="#3a3a3a" stroke-width="0.8"/>
<text x="610.1" y="321.81" font-size="7" text-anchor="end" font-weight="normal" fill="#111">25</text>
<line x1="628.4" y1="385.5" x2="628.4" y2="387.1" stroke="#3a3a3a" stroke-width="0.8"/>
<text x="628.4" y="395" font-size="7.2" text-anchor="middle" font-weight="normal" fill="#111">Dark</text>
<line x1="663.6" y1="385.5" x2="663.6" y2="387.1" stroke="#3a3a3a" stroke-width="0.8"/>
<text x="663.6" y="395" font-size="7.2" text-anchor="middle" font-weight="normal" fill="#111">Light</text>
<line x1="621.2" y1="321.1" x2="636.8" y2="321.1" stroke="#aaa" stroke-width="0.9"/>
<line x1="657.2" y1="329.5" x2="672.7" y2="329.5" stroke="#555" stroke-width="0.9"/>
<path d="M626.2 310.45L626.2 316.95M623.39 312.07L629.01 315.32M623.39 315.32L629.01 312.07" stroke="#000" stroke-width="1.15" fill="none"/>
<g fill="#000"><circle cx="626.2" cy="310.45" r="0.95"/><circle cx="626.2" cy="316.95" r="0.95"/><circle cx="623.39" cy="312.07" r="0.95"/><circle cx="629.01" cy="315.32" r="0.95"/><circle cx="623.39" cy="315.32" r="0.95"/><circle cx="629.01" cy="312.07" r="0.95"/><circle cx="626.2" cy="313.7" r="1.5"/></g>
<path d="M638.1 310.45L638.1 316.95M635.29 312.07L640.91 315.32M635.29 315.32L640.91 312.07" stroke="#000" stroke-width="1.15" fill="none"/>
<g fill="#000"><circle cx="638.1" cy="310.45" r="0.95"/><circle cx="638.1" cy="316.95" r="0.95"/><circle cx="635.29" cy="312.07" r="0.95"/><circle cx="640.91" cy="315.32" r="0.95"/><circle cx="635.29" cy="315.32" r="0.95"/><circle cx="640.91" cy="312.07" r="0.95"/><circle cx="638.1" cy="313.7" r="1.5"/></g>
<path d="M665 319.75L665 326.25M662.19 321.38L667.81 324.62M662.19 324.62L667.81 321.38" stroke="#000" stroke-width="1.15" fill="none"/>
<g fill="#000"><circle cx="665" cy="319.75" r="0.95"/><circle cx="665" cy="326.25" r="0.95"/><circle cx="662.19" cy="321.38" r="0.95"/><circle cx="667.81" cy="324.62" r="0.95"/><circle cx="662.19" cy="324.62" r="0.95"/><circle cx="667.81" cy="321.38" r="0.95"/><circle cx="665" cy="323" r="1.5"/></g>
<rect x="617.45" y="323.85" width="3.8" height="2.9" rx="0.35" fill="#fff" stroke="#111" stroke-width="0.7"/>
<rect x="619.25" y="326.95" width="3.8" height="2.9" rx="0.35" fill="#fff" stroke="#111" stroke-width="0.7"/>
<rect x="622.15" y="326.45" width="3.8" height="2.9" rx="0.35" fill="#fff" stroke="#111" stroke-width="0.7"/>
<rect x="630.45" y="336.45" width="3.8" height="2.9" rx="0.35" fill="#fff" stroke="#111" stroke-width="0.7"/>
<rect x="634.65" y="333.65" width="3.8" height="2.9" rx="0.35" fill="#fff" stroke="#111" stroke-width="0.7"/>
<rect x="635.25" y="336.95" width="3.8" height="2.9" rx="0.35" fill="#fff" stroke="#111" stroke-width="0.7"/>
<rect x="652.45" y="332.15" width="3.8" height="2.9" rx="0.35" fill="#fff" stroke="#111" stroke-width="0.7"/>
<rect x="652.65" y="334.95" width="3.8" height="2.9" rx="0.35" fill="#fff" stroke="#111" stroke-width="0.7"/>
<rect x="656.05" y="336.35" width="3.8" height="2.9" rx="0.35" fill="#fff" stroke="#111" stroke-width="0.7"/>
<rect x="666.35" y="336.85" width="3.8" height="2.9" rx="0.35" fill="#fff" stroke="#111" stroke-width="0.7"/>
<rect x="667.65" y="339.65" width="3.8" height="2.9" rx="0.35" fill="#fff" stroke="#111" stroke-width="0.7"/>
<rect x="670.65" y="338.95" width="3.8" height="2.9" rx="0.35" fill="#fff" stroke="#111" stroke-width="0.7"/>
<text x="9.8" y="129.4" font-size="12.8" text-anchor="middle" transform="rotate(-90 9.8 129.4)"><tspan>VCO</tspan><tspan font-size="9.09" dy="2.69">2</tspan><tspan dy="-2.69">&#160;(mL/Kg/h)</tspan></text>
<text x="233.7" y="126.5" font-size="13" text-anchor="middle" transform="rotate(-90 233.7 126.5)"><tspan>VO</tspan><tspan font-size="9.23" dy="2.73">2</tspan><tspan dy="-2.73">&#160;(mL/Kg/h)</tspan></text>
<text x="474" y="127.1" font-size="13" text-anchor="middle" font-weight="normal" fill="#000" transform="rotate(-90 474 127.1)">Energy Expenditure</text>
<text x="490.2" y="124.5" font-size="12.6" text-anchor="middle" font-weight="normal" fill="#000" transform="rotate(-90 490.2 124.5)">(Kcal/h/Kg)</text>
<text x="9.6" y="432.2" font-size="14" text-anchor="middle" transform="rotate(-90 9.6 432.2)"><tspan>VCO</tspan><tspan font-size="9.94" dy="2.94">2</tspan><tspan dy="-2.94">&#160;(mL/Kg/h)</tspan></text>
<text x="236.3" y="431" font-size="13.6" text-anchor="middle" transform="rotate(-90 236.3 431)"><tspan>VO</tspan><tspan font-size="9.66" dy="2.86">2</tspan><tspan dy="-2.86">&#160;(mL/Kg/h)</tspan></text>
<text x="461.8" y="430.2" font-size="12.8" text-anchor="middle" font-weight="normal" fill="#000" transform="rotate(-90 461.8 430.2)">Energy Expenditure</text>
<text x="475.8" y="428.1" font-size="12.6" text-anchor="middle" font-weight="normal" fill="#000" transform="rotate(-90 475.8 428.1)">(Kcal/h/Kg)</text>
<text x="96" y="44.7" font-size="7.9" text-anchor="middle" transform="rotate(-90 96 44.7)"><tspan>VCO</tspan><tspan font-size="5.61" dy="1.66">2</tspan><tspan dy="-1.66">&#160;(mL/Kg/h)</tspan></text>
<text x="323" y="45.3" font-size="7.9" text-anchor="middle" transform="rotate(-90 323 45.3)"><tspan>VCO</tspan><tspan font-size="5.61" dy="1.66">2</tspan><tspan dy="-1.66">&#160;(mL/Kg/h)</tspan></text>
<text x="572" y="46" font-size="7.8" text-anchor="middle" font-weight="normal" fill="#000" transform="rotate(-90 572 46)">Energy Expenditure</text>
<text x="581.8" y="44.5" font-size="7.8" text-anchor="middle" font-weight="normal" fill="#000" transform="rotate(-90 581.8 44.5)">(Kcal/h/Kg)</text>
<text x="102.5" y="351" font-size="7.2" text-anchor="middle" transform="rotate(-90 102.5 351)"><tspan>VCO</tspan><tspan font-size="5.11" dy="1.51">2</tspan><tspan dy="-1.51">&#160;(mL/Kg/h)</tspan></text>
<text x="332" y="350" font-size="7.2" text-anchor="middle" transform="rotate(-90 332 350)"><tspan>VO</tspan><tspan font-size="5.11" dy="1.51">2</tspan><tspan dy="-1.51">&#160;(mL/Kg/h)</tspan></text>
<text x="589.6" y="350.5" font-size="7.2" text-anchor="middle" font-weight="normal" fill="#000" transform="rotate(-90 589.6 350.5)">Energy Expenditure</text>
<text x="598.6" y="349.5" font-size="7.2" text-anchor="middle" font-weight="normal" fill="#000" transform="rotate(-90 598.6 349.5)">(kcal/h/kg)</text>
<text x="119.2" y="199.4" font-size="13" text-anchor="middle" font-weight="normal" fill="#000">Time (h)</text>
<text x="349.2" y="199.4" font-size="13" text-anchor="middle" font-weight="normal" fill="#000">Time (h)</text>
<text x="592.7" y="200.5" font-size="13" text-anchor="middle" font-weight="normal" fill="#000">Time (h)</text>
<text x="113" y="502" font-size="13" text-anchor="middle" font-weight="normal" fill="#000">Time (h)</text>
<text x="347.1" y="501.7" font-size="13" text-anchor="middle" font-weight="normal" fill="#000">Time (h)</text>
<text x="583.6" y="501.5" font-size="13" text-anchor="middle" font-weight="normal" fill="#000">Time (h)</text>
<rect x="219.9" y="238.1" width="13.1" height="10.6" fill="#000"/>
<rect x="220.7" y="261.4" width="12.8" height="10.3" fill="#ff0000" stroke="#a66" stroke-width="0.5"/>
<text x="237.4" y="248" font-size="12.9" text-anchor="start" font-weight="normal" fill="#000">Control (20 weeks)</text>
<text x="237.4" y="272.2" font-size="12.9"><tspan font-style="italic">Cd36</tspan><tspan font-size="8.5" dy="-5">ΔLEC</tspan><tspan dy="5" dx="2.4">(20 weeks)</tspan></text>
</svg></body></html>
